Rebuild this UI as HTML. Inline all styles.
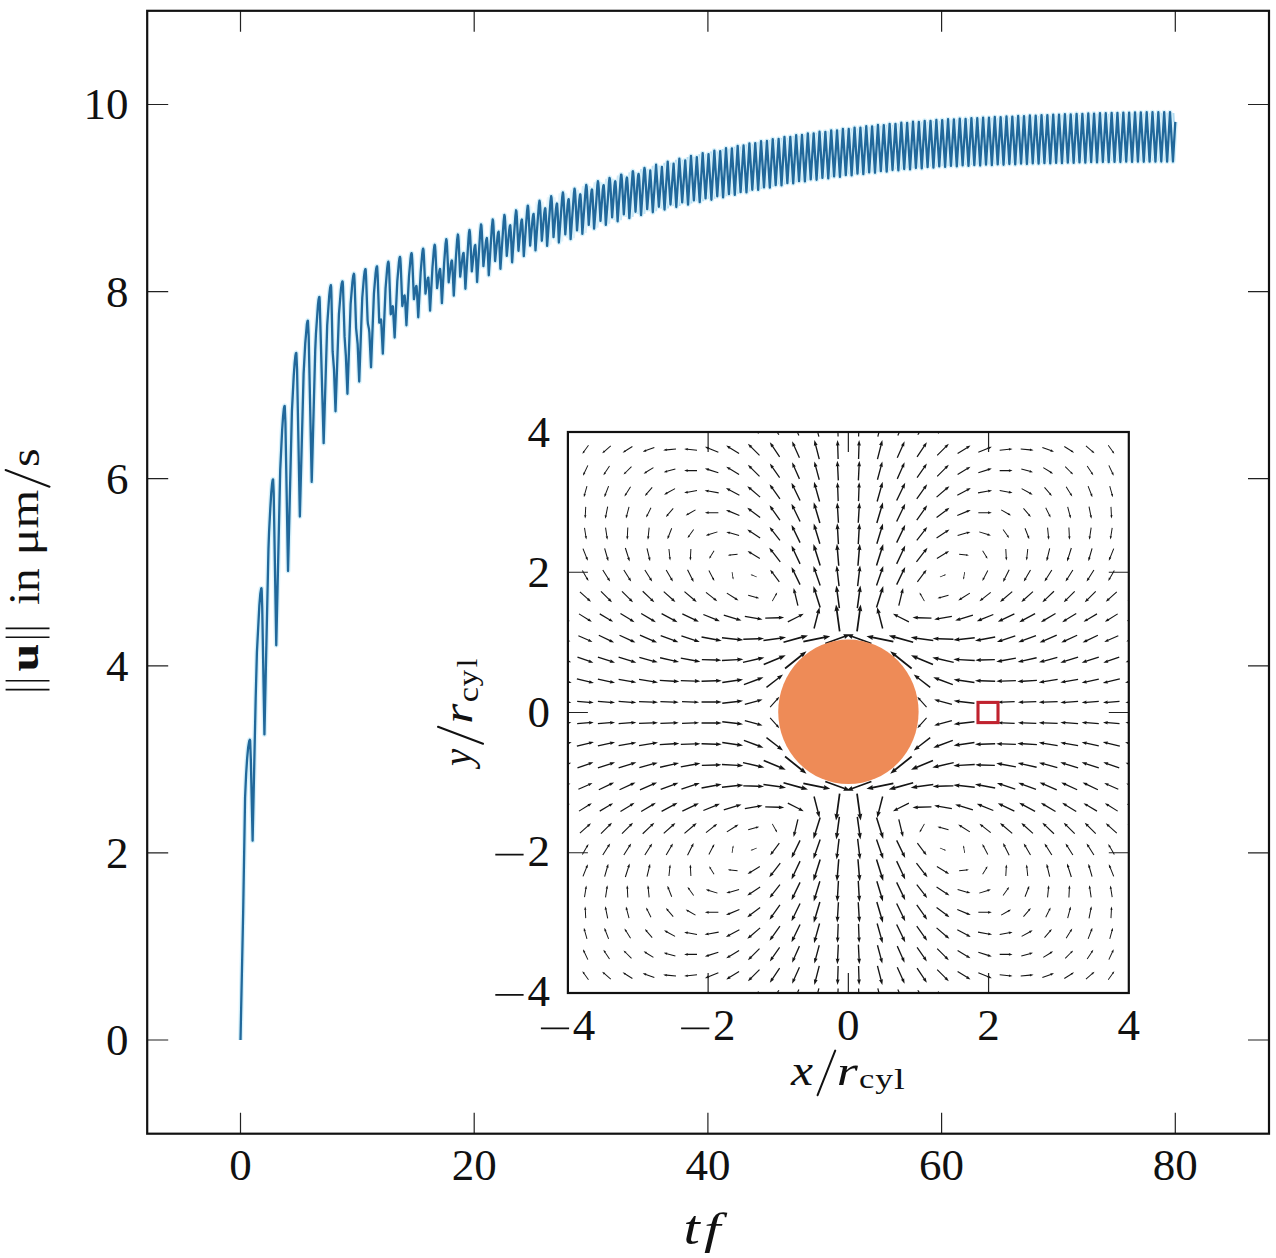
<!DOCTYPE html><html><head><meta charset="utf-8"><style>html,body{margin:0;padding:0;background:#fff;}svg{display:block;}text{font-family:"Liberation Serif",serif;fill:#111;}</style></head><body><svg width="1276" height="1258" viewBox="0 0 1276 1258"><rect width="1276" height="1258" fill="#fff"/><defs><clipPath id="cm"><rect x="147.2" y="10.8" width="1121.8" height="1122.9"/></clipPath><clipPath id="ci"><rect x="567.9" y="432.0" width="560.9" height="561.0"/></clipPath></defs><path d="M240.50,1133.70V1112.70M240.50,10.80V31.80M474.20,1133.70V1112.70M474.20,10.80V31.80M707.90,1133.70V1112.70M707.90,10.80V31.80M941.60,1133.70V1112.70M941.60,10.80V31.80M1175.30,1133.70V1112.70M1175.30,10.80V31.80M147.20,1040.00H168.20M1269.00,1040.00H1248.00M147.20,852.90H168.20M1269.00,852.90H1248.00M147.20,665.80H168.20M1269.00,665.80H1248.00M147.20,478.70H168.20M1269.00,478.70H1248.00M147.20,291.60H168.20M1269.00,291.60H1248.00M147.20,104.50H168.20M1269.00,104.50H1248.00" stroke="#222" stroke-width="1.2" fill="none"/><defs><linearGradient id="bg" x1="497.6" x2="684.5" y1="0" y2="0" gradientUnits="userSpaceOnUse"><stop offset="0" stop-color="#b3dcf2" stop-opacity="0"/><stop offset="1" stop-color="#b3dcf2" stop-opacity="1"/></linearGradient></defs><path d="M474.20,232.65 474.99,246.01 476.72,225.25 485.46,225.25 486.49,238.99 486.82,238.99 488.41,220.45 497.15,220.45 498.08,232.29 498.60,232.61 500.09,215.90 508.83,215.90 509.72,226.27 510.38,226.27 511.78,211.22 520.52,211.22 521.36,220.47 522.11,220.47 523.46,206.54 532.20,206.54 533.00,214.81 533.84,214.81 535.15,201.73 543.89,201.74 544.64,209.28 545.62,209.28 546.83,197.19 555.57,197.19 556.28,204.31 557.40,204.48 558.52,193.34 567.26,193.34 567.96,200.07 569.18,200.07 570.20,189.70 578.94,189.70 579.60,195.29 580.91,195.29 581.89,185.89 590.63,185.89 591.24,190.43 592.69,190.43 593.57,182.22 602.31,182.22 602.88,186.07 604.42,186.07 605.21,178.81 613.95,178.82 614.47,182.26 616.10,182.28 616.85,175.44 625.54,175.44 626.11,178.56 627.74,178.56 628.44,172.15 637.18,172.14 637.70,174.91 639.43,174.91 640.08,168.90 648.82,168.90 649.29,171.36 651.30,171.36 651.72,165.76 660.41,165.76 660.60,167.91 662.98,167.91 663.36,162.67 672.05,162.67 672.24,164.49 674.67,164.49 675.00,159.72 683.69,159.72 683.83,161.23 686.31,161.23 686.63,156.91 695.33,156.91 695.47,158.10 698.04,158.10 698.32,154.17 707.01,154.17 707.11,155.04 709.77,155.04 710.00,151.58 718.70,151.58 718.79,152.12 721.45,152.12 721.69,149.12 733.19,149.29 733.37,146.72 744.87,146.51 745.06,144.38 756.56,144.18 756.74,142.13 768.24,141.95 768.43,139.97 779.93,139.83 780.11,137.94 791.66,137.84 791.80,136.05 803.34,135.99 803.48,134.32 815.03,134.32 815.17,132.76 826.71,132.81 826.85,131.32 838.40,131.37 838.54,129.92 850.08,129.96 850.22,128.56 861.77,128.60 861.91,127.26 873.45,127.30 873.59,126.01 885.14,126.07 885.28,124.84 896.82,124.90 896.96,123.73 908.51,123.81 908.65,122.71 920.19,122.81 920.33,121.79 931.88,121.91 932.02,120.95 943.56,121.10 943.70,120.23 955.29,120.41 955.39,119.62 966.98,119.82 967.07,119.07 978.66,119.26 978.76,118.54 990.35,118.70 990.44,118.01 1002.03,118.16 1002.13,117.50 1013.72,117.63 1013.81,117.00 1025.40,117.12 1025.50,116.52 1037.09,116.62 1037.18,116.07 1048.77,116.15 1048.87,115.63 1060.46,115.70 1060.55,115.22 1072.14,115.28 1072.24,114.84 1083.83,114.89 1083.92,114.49 1095.51,114.53 1095.61,114.17 1118.98,113.63 1174.41,113.07 1174.97,122.91 1175.30,122.92 L1175.30,160.53 1101.40,160.99 1101.36,161.37 1089.72,161.16 1089.67,161.59 1078.08,161.36 1077.99,161.84 1066.40,161.59 1066.30,162.11 1054.71,161.83 1054.62,162.40 1043.03,162.09 1042.93,162.71 1031.34,162.38 1031.25,163.05 1019.66,162.68 1019.56,163.40 1007.97,163.01 1007.88,163.76 999.18,163.76 999.09,163.34 996.29,163.34 996.19,164.14 987.50,164.14 987.41,163.70 984.60,163.70 984.51,164.54 975.81,164.54 975.72,164.06 972.92,164.06 972.82,164.95 964.13,164.95 964.04,164.44 961.23,164.44 961.14,165.38 952.44,165.38 952.35,164.88 949.55,164.88 949.45,165.92 940.76,165.92 940.67,165.46 937.86,165.46 937.77,166.61 929.07,166.61 928.98,166.18 926.18,166.18 926.08,167.43 917.39,167.43 917.30,167.02 914.49,167.02 914.40,168.37 902.85,167.98 902.71,169.42 891.17,169.04 891.03,170.56 879.48,170.19 879.34,171.79 867.80,171.41 867.66,173.09 856.11,172.71 855.97,174.45 844.43,174.06 844.29,175.86 835.59,175.86 835.50,175.45 832.74,175.45 832.60,177.31 823.91,177.31 823.82,176.88 821.06,176.88 820.92,178.80 809.37,178.40 809.23,180.47 797.69,180.14 797.55,182.36 786.05,182.08 785.86,184.43 774.36,184.19 774.18,186.64 762.68,186.42 762.49,188.97 750.99,188.76 750.81,191.38 739.31,191.15 739.12,193.84 730.43,193.84 730.34,193.22 727.62,193.22 727.44,196.31 718.74,196.31 718.60,195.29 715.99,195.29 715.75,198.76 707.06,198.76 706.92,197.32 704.30,197.32 704.07,201.18 695.37,201.18 695.23,199.36 692.66,199.36 692.38,203.60 683.69,203.60 683.50,201.41 680.93,201.42 680.65,206.04 671.96,206.04 671.77,203.52 669.25,203.52 668.87,208.55 660.18,208.55 659.99,205.78 657.56,205.78 657.14,211.27 648.45,211.27 648.26,208.18 645.88,208.18 645.41,214.12 636.71,214.12 636.48,210.74 634.14,210.74 633.68,217.11 624.98,217.11 624.75,213.47 622.46,213.47 621.95,220.30 613.20,220.29 612.97,216.41 610.77,216.41 610.17,223.87 601.47,223.87 601.24,219.93 599.09,219.93 598.43,227.72 589.74,227.72 589.51,223.96 587.40,223.96 586.70,232.91 578.01,232.91 577.78,229.34 575.63,229.37 574.97,238.18 566.28,238.18 566.00,233.45 563.85,233.45 563.19,241.50 554.50,241.50 554.22,236.19 552.16,236.19 551.46,244.84 542.77,244.84 542.49,239.81 540.57,239.81 539.78,249.53 531.08,249.53 530.85,244.63 528.93,244.63 528.14,255.11 519.44,255.11 519.16,249.88 517.29,249.88 516.45,261.31 507.76,261.31 507.43,255.01 505.66,255.01 504.77,267.82 496.07,267.82 495.70,260.12 494.02,260.12 493.13,274.30 484.44,274.30 483.97,265.21 482.43,265.21 481.44,280.99 474.20,280.99Z" fill="url(#bg)" stroke="none"/><path d="M240.50,1040.00 243.16,912.29 245.08,797.52 246.11,774.28 247.14,758.43 248.17,747.34 249.24,740.95 249.85,739.74 250.13,740.53 250.83,759.22 252.61,840.71 255.69,697.75 256.91,652.24 259.34,605.56 260.32,593.65 261.21,588.49 261.49,588.32 261.72,590.93 262.23,607.68 264.43,734.41 268.45,549.15 269.06,532.33 270.27,508.73 271.25,492.84 272.10,483.38 272.66,480.01 272.94,479.38 273.12,479.64 273.69,492.79 276.26,645.24 280.23,469.38 282.15,430.00 283.08,416.25 283.87,408.58 284.39,406.25 284.62,405.98 284.76,406.57 285.42,422.90 288.03,571.05 291.91,411.37 293.74,375.83 294.62,363.28 295.42,355.70 295.93,353.26 296.21,352.89 296.35,353.41 297.06,369.46 299.86,516.54 303.60,373.86 305.23,343.70 306.87,324.33 307.48,321.17 307.81,320.70 307.95,321.13 308.69,336.30 311.73,481.88 315.24,349.88 315.94,333.98 317.99,304.60 318.60,299.46 319.16,297.09 319.40,296.91 319.49,297.42 319.72,301.33 323.65,443.19 327.20,325.05 329.26,295.30 330.10,287.87 330.85,285.09 331.13,286.82 331.41,294.98 332.62,351.42 333.98,369.05 335.52,411.32 338.93,314.17 340.90,289.72 341.69,283.65 342.39,281.31 342.67,281.95 343.00,286.94 344.59,336.91 345.85,355.57 347.44,393.76 350.62,304.19 352.44,281.80 353.19,276.07 353.89,273.73 354.22,275.03 354.59,282.03 356.09,328.10 357.63,343.79 359.22,381.54 362.26,297.74 363.99,276.75 364.69,271.41 365.34,269.13 365.53,269.15 365.67,270.04 366.04,276.31 367.59,320.07 367.91,323.74 368.94,328.65 369.36,332.43 371.04,367.28 373.94,293.37 375.63,273.19 376.28,268.26 376.84,266.37 377.03,266.44 377.21,267.77 377.64,275.15 379.27,322.71 380.72,319.62 381.00,319.54 381.19,320.57 382.82,353.64 385.58,288.12 387.22,268.11 387.82,263.41 388.34,261.66 388.71,263.16 389.13,270.25 390.72,313.87 390.82,314.24 392.31,307.02 392.69,306.27 392.92,306.74 394.65,337.49 397.31,281.03 398.90,262.50 399.46,258.33 399.93,256.81 400.30,258.31 400.72,265.08 402.31,306.08 404.00,296.73 404.42,295.49 404.60,295.44 404.70,295.75 405.21,301.84 406.43,325.28 409.00,276.23 410.54,258.53 411.05,254.66 411.52,253.10 411.90,254.59 412.27,260.09 413.91,299.22 415.73,287.74 416.20,286.10 416.38,285.93 416.52,286.27 417.04,292.58 418.25,317.26 420.73,271.55 422.23,253.68 422.69,250.03 423.11,248.58 423.49,250.12 423.86,255.57 425.50,293.67 427.46,279.93 427.93,277.96 428.16,277.59 428.30,277.71 428.82,283.61 430.08,310.59 432.46,267.65 433.86,249.94 434.33,246.05 434.70,244.74 435.08,246.30 435.45,251.61 437.09,288.11 439.19,271.93 439.71,269.49 439.94,269.02 440.13,269.08 440.69,276.00 441.90,303.14 444.15,262.92 445.55,243.98 446.30,239.15 446.67,240.80 447.04,246.14 448.68,282.29 450.92,264.03 451.48,261.15 451.76,260.53 451.95,260.57 452.47,266.67 453.77,295.60 455.88,257.98 457.19,239.34 457.89,234.52 458.26,236.22 458.64,241.54 460.22,276.58 462.61,256.48 463.12,253.67 463.59,252.88 464.15,259.47 465.41,288.78 468.50,238.73 469.01,232.38 469.48,229.88 469.85,231.65 470.23,236.95 471.82,271.35 474.25,249.08 474.81,245.82 475.28,245.07 475.84,252.12 477.10,281.99 480.23,231.56 481.02,224.30 481.40,225.68 481.77,230.71 483.41,266.14 485.84,242.75 486.40,239.14 486.91,238.00 487.47,244.52 488.78,275.30 491.91,226.65 492.71,219.50 493.08,220.86 493.46,225.86 495.09,261.06 497.52,236.49 498.08,232.75 498.60,231.63 499.16,238.41 500.42,268.82 503.65,221.32 504.39,214.95 504.77,216.29 505.14,221.23 506.78,255.95 509.21,230.27 509.77,226.41 510.05,225.46 510.28,225.33 510.84,232.33 512.11,262.31 515.38,215.91 516.08,210.27 516.45,211.60 516.83,216.48 518.46,250.82 520.89,224.48 521.45,220.56 521.92,219.47 522.48,225.81 523.79,256.11 527.06,211.16 527.72,205.69 527.90,205.61 528.09,206.53 528.51,211.71 530.15,245.57 532.58,218.79 533.14,214.86 533.61,213.83 534.17,220.46 535.48,250.45 538.79,205.77 539.50,200.73 539.87,202.53 540.24,207.70 541.83,240.76 544.31,212.86 544.92,208.90 545.20,208.29 545.39,208.72 545.90,216.38 547.11,245.84 550.48,201.29 551.18,196.19 551.55,198.02 551.93,203.31 553.52,237.13 555.99,208.62 556.60,204.34 556.93,203.50 557.12,203.87 557.63,211.64 558.85,242.50 562.21,197.14 562.87,192.34 563.24,194.15 563.61,199.39 565.30,234.45 567.68,204.39 568.29,199.88 568.61,199.07 568.80,199.61 569.32,207.44 570.62,239.18 573.94,193.17 574.55,188.70 574.92,190.43 575.30,195.42 577.03,230.34 579.37,199.65 579.97,195.03 580.25,194.31 580.44,194.68 581.00,202.54 582.36,233.91 585.63,189.43 586.24,184.89 586.61,186.48 586.98,191.12 588.76,224.96 591.05,194.63 591.66,190.06 591.94,189.43 592.13,189.95 592.69,197.58 594.09,228.72 596.28,201.62 597.36,185.24 597.92,181.22 598.29,182.74 598.72,187.90 600.49,220.93 602.73,190.24 603.30,185.82 603.58,185.08 603.76,185.46 604.37,193.32 605.82,224.87 607.97,197.92 609.00,181.88 609.51,177.85 609.89,179.01 610.35,184.43 612.13,217.40 614.42,186.23 614.98,181.91 615.26,181.28 615.45,181.79 616.06,189.57 617.60,221.30 620.64,178.58 621.10,174.58 621.29,174.55 621.48,175.37 621.95,180.40 623.81,214.47 626.06,182.87 626.62,178.29 626.90,177.56 627.09,177.95 627.74,185.93 629.33,218.11 632.70,171.40 632.88,171.17 633.12,172.12 633.58,177.14 635.50,211.74 637.65,180.18 638.16,175.30 638.58,173.91 638.96,175.83 639.33,180.80 641.06,215.12 643.96,171.59 644.47,167.90 644.85,169.65 645.32,175.37 647.18,209.18 650.27,170.49 652.79,212.27 656.07,164.76 658.87,206.78 661.91,166.91 664.53,209.55 667.70,161.67 670.51,204.52 673.59,163.72 676.30,207.04 679.34,158.72 682.19,202.41 685.23,160.29 688.04,204.60 690.98,155.91 693.88,200.36 696.82,157.10 699.72,202.18 702.67,153.17 705.56,198.32 708.51,154.04 711.41,199.76 714.35,150.58 717.25,196.29 720.19,151.12 723.09,197.31 725.99,148.19 728.93,194.22 731.88,148.29 734.78,194.84 737.67,145.79 740.62,192.15 743.56,145.51 746.46,192.38 749.41,143.38 752.30,189.76 755.25,143.18 758.15,189.97 761.04,141.20 763.99,187.42 766.93,140.95 769.83,187.64 772.73,139.04 775.67,185.19 778.62,138.83 781.52,185.43 784.46,136.94 787.36,183.08 790.30,136.84 793.20,183.36 796.15,135.05 799.04,181.14 801.99,134.99 804.89,181.47 807.83,133.32 810.73,179.40 813.67,133.32 816.57,179.80 819.52,131.76 822.41,177.88 825.36,131.81 828.26,178.31 831.20,130.32 834.10,176.45 837.04,130.37 839.94,176.86 842.89,128.92 845.78,175.06 848.73,128.96 851.63,175.45 854.57,127.56 857.47,173.71 860.41,127.60 863.31,174.09 866.26,126.26 869.15,172.41 872.10,126.30 875.00,172.79 877.94,125.01 880.84,171.19 883.78,125.07 886.68,171.56 889.63,123.84 892.52,170.04 895.47,123.90 898.37,170.42 901.31,122.73 904.21,168.98 907.15,122.81 910.05,169.37 913.00,121.71 915.89,168.02 918.84,121.81 921.74,168.43 924.68,120.79 927.58,167.18 930.52,120.91 933.42,167.61 936.37,119.95 939.26,166.46 942.21,120.10 945.11,166.92 948.05,119.23 950.95,165.88 953.89,119.41 956.79,166.38 959.74,118.62 962.63,165.44 965.58,118.82 968.48,165.95 971.42,118.07 974.32,165.06 977.26,118.26 980.16,165.54 983.11,117.54 986.00,164.70 988.95,117.70 991.85,165.14 994.79,117.01 997.69,164.34 1000.63,117.16 1003.53,164.76 1006.48,116.50 1009.37,164.01 1012.32,116.63 1015.22,164.40 1018.16,116.00 1021.06,163.68 1024.00,116.12 1026.90,164.05 1029.85,115.52 1032.74,163.38 1035.69,115.63 1038.59,163.71 1041.53,115.07 1044.43,163.09 1047.37,115.15 1050.27,163.40 1053.22,114.63 1056.11,162.83 1059.01,114.70 1061.96,163.11 1064.90,114.22 1067.80,162.59 1070.70,114.28 1073.64,162.84 1076.59,113.84 1079.48,162.36 1082.38,113.89 1085.33,162.59 1088.27,113.49 1091.17,162.16 1094.07,113.53 1097.01,162.37 1099.96,113.17 1102.85,161.99 1105.75,113.20 1108.70,162.17 1111.64,112.88 1114.54,161.84 1117.44,112.91 1120.38,161.99 1123.33,112.63 1126.22,161.72 1129.12,112.65 1132.07,161.85 1135.01,112.43 1137.91,161.63 1140.81,112.44 1143.75,161.73 1146.70,112.26 1149.59,161.57 1152.49,112.27 1155.44,161.65 1158.33,112.21 1161.28,161.54 1164.18,112.15 1167.12,161.59 1170.02,112.14 1172.96,161.53 1175.30,121.92" stroke="#d6f1fb" stroke-width="5" fill="none" stroke-linejoin="round" clip-path="url(#cm)"/><path d="M240.50,1040.00 243.16,912.29 245.08,797.52 246.11,774.28 247.14,758.43 248.17,747.34 249.24,740.95 249.85,739.74 250.13,740.53 250.83,759.22 252.61,840.71 255.69,697.75 256.91,652.24 259.34,605.56 260.32,593.65 261.21,588.49 261.49,588.32 261.72,590.93 262.23,607.68 264.43,734.41 268.45,549.15 269.06,532.33 270.27,508.73 271.25,492.84 272.10,483.38 272.66,480.01 272.94,479.38 273.12,479.64 273.69,492.79 276.26,645.24 280.23,469.38 282.15,430.00 283.08,416.25 283.87,408.58 284.39,406.25 284.62,405.98 284.76,406.57 285.42,422.90 288.03,571.05 291.91,411.37 293.74,375.83 294.62,363.28 295.42,355.70 295.93,353.26 296.21,352.89 296.35,353.41 297.06,369.46 299.86,516.54 303.60,373.86 305.23,343.70 306.87,324.33 307.48,321.17 307.81,320.70 307.95,321.13 308.69,336.30 311.73,481.88 315.24,349.88 315.94,333.98 317.99,304.60 318.60,299.46 319.16,297.09 319.40,296.91 319.49,297.42 319.72,301.33 323.65,443.19 327.20,325.05 329.26,295.30 330.10,287.87 330.85,285.09 331.13,286.82 331.41,294.98 332.62,351.42 333.98,369.05 335.52,411.32 338.93,314.17 340.90,289.72 341.69,283.65 342.39,281.31 342.67,281.95 343.00,286.94 344.59,336.91 345.85,355.57 347.44,393.76 350.62,304.19 352.44,281.80 353.19,276.07 353.89,273.73 354.22,275.03 354.59,282.03 356.09,328.10 357.63,343.79 359.22,381.54 362.26,297.74 363.99,276.75 364.69,271.41 365.34,269.13 365.53,269.15 365.67,270.04 366.04,276.31 367.59,320.07 367.91,323.74 368.94,328.65 369.36,332.43 371.04,367.28 373.94,293.37 375.63,273.19 376.28,268.26 376.84,266.37 377.03,266.44 377.21,267.77 377.64,275.15 379.27,322.71 380.72,319.62 381.00,319.54 381.19,320.57 382.82,353.64 385.58,288.12 387.22,268.11 387.82,263.41 388.34,261.66 388.71,263.16 389.13,270.25 390.72,313.87 390.82,314.24 392.31,307.02 392.69,306.27 392.92,306.74 394.65,337.49 397.31,281.03 398.90,262.50 399.46,258.33 399.93,256.81 400.30,258.31 400.72,265.08 402.31,306.08 404.00,296.73 404.42,295.49 404.60,295.44 404.70,295.75 405.21,301.84 406.43,325.28 409.00,276.23 410.54,258.53 411.05,254.66 411.52,253.10 411.90,254.59 412.27,260.09 413.91,299.22 415.73,287.74 416.20,286.10 416.38,285.93 416.52,286.27 417.04,292.58 418.25,317.26 420.73,271.55 422.23,253.68 422.69,250.03 423.11,248.58 423.49,250.12 423.86,255.57 425.50,293.67 427.46,279.93 427.93,277.96 428.16,277.59 428.30,277.71 428.82,283.61 430.08,310.59 432.46,267.65 433.86,249.94 434.33,246.05 434.70,244.74 435.08,246.30 435.45,251.61 437.09,288.11 439.19,271.93 439.71,269.49 439.94,269.02 440.13,269.08 440.69,276.00 441.90,303.14 444.15,262.92 445.55,243.98 446.30,239.15 446.67,240.80 447.04,246.14 448.68,282.29 450.92,264.03 451.48,261.15 451.76,260.53 451.95,260.57 452.47,266.67 453.77,295.60 455.88,257.98 457.19,239.34 457.89,234.52 458.26,236.22 458.64,241.54 460.22,276.58 462.61,256.48 463.12,253.67 463.59,252.88 464.15,259.47 465.41,288.78 468.50,238.73 469.01,232.38 469.48,229.88 469.85,231.65 470.23,236.95 471.82,271.35 474.25,249.08 474.81,245.82 475.28,245.07 475.84,252.12 477.10,281.99 480.23,231.56 481.02,224.30 481.40,225.68 481.77,230.71 483.41,266.14 485.84,242.75 486.40,239.14 486.91,238.00 487.47,244.52 488.78,275.30 491.91,226.65 492.71,219.50 493.08,220.86 493.46,225.86 495.09,261.06 497.52,236.49 498.08,232.75 498.60,231.63 499.16,238.41 500.42,268.82 503.65,221.32 504.39,214.95 504.77,216.29 505.14,221.23 506.78,255.95 509.21,230.27 509.77,226.41 510.05,225.46 510.28,225.33 510.84,232.33 512.11,262.31 515.38,215.91 516.08,210.27 516.45,211.60 516.83,216.48 518.46,250.82 520.89,224.48 521.45,220.56 521.92,219.47 522.48,225.81 523.79,256.11 527.06,211.16 527.72,205.69 527.90,205.61 528.09,206.53 528.51,211.71 530.15,245.57 532.58,218.79 533.14,214.86 533.61,213.83 534.17,220.46 535.48,250.45 538.79,205.77 539.50,200.73 539.87,202.53 540.24,207.70 541.83,240.76 544.31,212.86 544.92,208.90 545.20,208.29 545.39,208.72 545.90,216.38 547.11,245.84 550.48,201.29 551.18,196.19 551.55,198.02 551.93,203.31 553.52,237.13 555.99,208.62 556.60,204.34 556.93,203.50 557.12,203.87 557.63,211.64 558.85,242.50 562.21,197.14 562.87,192.34 563.24,194.15 563.61,199.39 565.30,234.45 567.68,204.39 568.29,199.88 568.61,199.07 568.80,199.61 569.32,207.44 570.62,239.18 573.94,193.17 574.55,188.70 574.92,190.43 575.30,195.42 577.03,230.34 579.37,199.65 579.97,195.03 580.25,194.31 580.44,194.68 581.00,202.54 582.36,233.91 585.63,189.43 586.24,184.89 586.61,186.48 586.98,191.12 588.76,224.96 591.05,194.63 591.66,190.06 591.94,189.43 592.13,189.95 592.69,197.58 594.09,228.72 596.28,201.62 597.36,185.24 597.92,181.22 598.29,182.74 598.72,187.90 600.49,220.93 602.73,190.24 603.30,185.82 603.58,185.08 603.76,185.46 604.37,193.32 605.82,224.87 607.97,197.92 609.00,181.88 609.51,177.85 609.89,179.01 610.35,184.43 612.13,217.40 614.42,186.23 614.98,181.91 615.26,181.28 615.45,181.79 616.06,189.57 617.60,221.30 620.64,178.58 621.10,174.58 621.29,174.55 621.48,175.37 621.95,180.40 623.81,214.47 626.06,182.87 626.62,178.29 626.90,177.56 627.09,177.95 627.74,185.93 629.33,218.11 632.70,171.40 632.88,171.17 633.12,172.12 633.58,177.14 635.50,211.74 637.65,180.18 638.16,175.30 638.58,173.91 638.96,175.83 639.33,180.80 641.06,215.12 643.96,171.59 644.47,167.90 644.85,169.65 645.32,175.37 647.18,209.18 650.27,170.49 652.79,212.27 656.07,164.76 658.87,206.78 661.91,166.91 664.53,209.55 667.70,161.67 670.51,204.52 673.59,163.72 676.30,207.04 679.34,158.72 682.19,202.41 685.23,160.29 688.04,204.60 690.98,155.91 693.88,200.36 696.82,157.10 699.72,202.18 702.67,153.17 705.56,198.32 708.51,154.04 711.41,199.76 714.35,150.58 717.25,196.29 720.19,151.12 723.09,197.31 725.99,148.19 728.93,194.22 731.88,148.29 734.78,194.84 737.67,145.79 740.62,192.15 743.56,145.51 746.46,192.38 749.41,143.38 752.30,189.76 755.25,143.18 758.15,189.97 761.04,141.20 763.99,187.42 766.93,140.95 769.83,187.64 772.73,139.04 775.67,185.19 778.62,138.83 781.52,185.43 784.46,136.94 787.36,183.08 790.30,136.84 793.20,183.36 796.15,135.05 799.04,181.14 801.99,134.99 804.89,181.47 807.83,133.32 810.73,179.40 813.67,133.32 816.57,179.80 819.52,131.76 822.41,177.88 825.36,131.81 828.26,178.31 831.20,130.32 834.10,176.45 837.04,130.37 839.94,176.86 842.89,128.92 845.78,175.06 848.73,128.96 851.63,175.45 854.57,127.56 857.47,173.71 860.41,127.60 863.31,174.09 866.26,126.26 869.15,172.41 872.10,126.30 875.00,172.79 877.94,125.01 880.84,171.19 883.78,125.07 886.68,171.56 889.63,123.84 892.52,170.04 895.47,123.90 898.37,170.42 901.31,122.73 904.21,168.98 907.15,122.81 910.05,169.37 913.00,121.71 915.89,168.02 918.84,121.81 921.74,168.43 924.68,120.79 927.58,167.18 930.52,120.91 933.42,167.61 936.37,119.95 939.26,166.46 942.21,120.10 945.11,166.92 948.05,119.23 950.95,165.88 953.89,119.41 956.79,166.38 959.74,118.62 962.63,165.44 965.58,118.82 968.48,165.95 971.42,118.07 974.32,165.06 977.26,118.26 980.16,165.54 983.11,117.54 986.00,164.70 988.95,117.70 991.85,165.14 994.79,117.01 997.69,164.34 1000.63,117.16 1003.53,164.76 1006.48,116.50 1009.37,164.01 1012.32,116.63 1015.22,164.40 1018.16,116.00 1021.06,163.68 1024.00,116.12 1026.90,164.05 1029.85,115.52 1032.74,163.38 1035.69,115.63 1038.59,163.71 1041.53,115.07 1044.43,163.09 1047.37,115.15 1050.27,163.40 1053.22,114.63 1056.11,162.83 1059.01,114.70 1061.96,163.11 1064.90,114.22 1067.80,162.59 1070.70,114.28 1073.64,162.84 1076.59,113.84 1079.48,162.36 1082.38,113.89 1085.33,162.59 1088.27,113.49 1091.17,162.16 1094.07,113.53 1097.01,162.37 1099.96,113.17 1102.85,161.99 1105.75,113.20 1108.70,162.17 1111.64,112.88 1114.54,161.84 1117.44,112.91 1120.38,161.99 1123.33,112.63 1126.22,161.72 1129.12,112.65 1132.07,161.85 1135.01,112.43 1137.91,161.63 1140.81,112.44 1143.75,161.73 1146.70,112.26 1149.59,161.57 1152.49,112.27 1155.44,161.65 1158.33,112.21 1161.28,161.54 1164.18,112.15 1167.12,161.59 1170.02,112.14 1172.96,161.53 1175.30,121.92" stroke="#21689b" stroke-width="2.3" fill="none" stroke-linejoin="round" clip-path="url(#cm)"/><rect x="147.2" y="10.8" width="1121.8" height="1122.9" fill="none" stroke="#111" stroke-width="2.2"/><text x="240.50" y="1180" font-size="45" text-anchor="middle">0</text><text x="474.20" y="1180" font-size="45" text-anchor="middle">20</text><text x="707.90" y="1180" font-size="45" text-anchor="middle">40</text><text x="941.60" y="1180" font-size="45" text-anchor="middle">60</text><text x="1175.30" y="1180" font-size="45" text-anchor="middle">80</text><text x="128.5" y="1054.90" font-size="45" text-anchor="end">0</text><text x="128.5" y="867.80" font-size="45" text-anchor="end">2</text><text x="128.5" y="680.70" font-size="45" text-anchor="end">4</text><text x="128.5" y="493.60" font-size="45" text-anchor="end">6</text><text x="128.5" y="306.50" font-size="45" text-anchor="end">8</text><text x="128.5" y="119.40" font-size="45" text-anchor="end">10</text><rect x="567.9" y="432.0" width="560.9" height="561.0" fill="#fff"/><g clip-path="url(#ci)"><path d="M926.97,706.82 920.24,699.20 921.08,698.88 917.38,696.78 919.00,700.72 919.42,699.92 926.15,707.54ZM926.15,717.46 919.42,725.08 919.00,724.28 917.38,728.22 921.08,726.12 920.24,725.80 926.97,718.18ZM770.55,707.54 777.28,699.92 777.70,700.72 779.32,696.78 775.62,698.88 776.46,699.20 769.73,706.82ZM769.73,718.18 776.46,725.80 775.62,726.12 779.32,728.22 777.70,724.28 777.28,725.08 770.55,717.46ZM952.05,703.79 939.04,700.21 939.77,699.18 934.13,699.54 938.79,702.73 938.69,701.48 951.70,705.07ZM951.70,719.93 938.69,723.52 938.79,722.27 934.13,725.46 939.77,725.82 939.04,724.79 952.05,721.21ZM745.00,705.07 758.01,701.48 757.91,702.73 762.57,699.54 756.93,699.18 757.66,700.21 744.65,703.79ZM744.65,721.21 757.66,724.79 756.93,725.82 762.57,725.46 757.91,722.27 758.01,723.52 745.00,719.93ZM974.52,702.49 959.27,700.69 959.91,699.39 953.64,700.76 959.42,703.55 959.10,702.13 974.35,703.93ZM974.35,721.07 959.10,722.87 959.42,721.45 953.64,724.24 959.91,725.61 959.27,724.31 974.52,722.51ZM722.35,703.93 737.60,702.13 737.28,703.55 743.06,700.76 736.79,699.39 737.43,700.69 722.18,702.49ZM722.18,722.51 737.43,724.31 736.79,725.61 743.06,724.24 737.28,721.45 737.60,722.87 722.35,721.07ZM701.54,702.69 716.34,702.69 715.87,704.00 721.72,701.98 715.87,699.96 716.34,701.28 701.54,701.28ZM701.54,723.72 716.34,723.72 715.87,725.04 721.72,723.02 715.87,721.00 716.34,722.31 701.54,722.31ZM1014.65,701.05 1002.09,701.50 1002.44,700.40 997.54,702.29 1002.57,703.82 1002.13,702.75 1014.69,702.31ZM1014.69,722.69 1002.13,722.25 1002.57,721.18 997.54,722.71 1002.44,724.60 1002.09,723.50 1014.65,723.95ZM682.01,702.31 694.57,702.75 694.13,703.82 699.16,702.29 694.26,700.40 694.61,701.50 682.05,701.05ZM682.05,723.95 694.61,723.50 694.26,724.60 699.16,722.71 694.13,721.18 694.57,722.25 682.01,722.69ZM1036.29,701.02 1022.84,701.47 1023.22,700.28 1017.96,702.29 1023.34,703.95 1022.88,702.78 1036.34,702.34ZM1036.34,722.66 1022.88,722.22 1023.34,721.05 1017.96,722.71 1023.22,724.72 1022.84,723.53 1036.29,723.98ZM660.36,702.34 673.82,702.78 673.36,703.95 678.74,702.29 673.48,700.28 673.86,701.47 660.41,701.02ZM660.41,723.98 673.86,723.53 673.48,724.72 678.74,722.71 673.36,721.05 673.82,722.22 660.36,722.66ZM1057.63,701.00 1043.73,701.45 1044.13,700.22 1038.69,702.29 1044.25,704.01 1043.77,702.80 1057.67,702.35ZM1057.67,722.65 1043.77,722.20 1044.25,720.99 1038.69,722.71 1044.13,724.78 1043.73,723.55 1057.63,724.00ZM639.03,702.35 652.93,702.80 652.45,704.01 658.01,702.29 652.57,700.22 652.97,701.45 639.07,701.00ZM639.07,724.00 652.97,723.55 652.57,724.78 658.01,722.71 652.45,720.99 652.93,722.20 639.03,722.65ZM1078.03,700.73 1065.02,701.63 1065.36,700.47 1060.33,702.59 1065.60,704.01 1065.11,702.91 1078.12,702.01ZM1078.12,722.99 1065.11,722.09 1065.60,720.99 1060.33,722.41 1065.36,724.53 1065.02,723.37 1078.03,724.27ZM618.58,702.01 631.59,702.91 631.10,704.01 636.37,702.59 631.34,700.47 631.68,701.63 618.67,700.73ZM618.67,724.27 631.68,723.37 631.34,724.53 636.37,722.41 631.10,720.99 631.59,722.09 618.58,722.99ZM1098.76,700.74 1086.20,701.64 1086.52,700.53 1081.67,702.59 1086.76,703.95 1086.29,702.90 1098.85,702.00ZM1098.85,723.00 1086.29,722.10 1086.76,721.05 1081.67,722.41 1086.52,724.47 1086.20,723.36 1098.76,724.26ZM597.85,702.00 610.41,702.90 609.94,703.95 615.03,702.59 610.18,700.53 610.50,701.64 597.94,700.74ZM597.94,724.26 610.50,723.36 610.18,724.47 615.03,722.41 609.94,721.05 610.41,722.10 597.85,723.00ZM1119.49,700.76 1107.37,701.66 1107.68,700.59 1103.01,702.59 1107.93,703.89 1107.47,702.88 1119.58,701.98ZM1119.58,723.02 1107.47,722.12 1107.93,721.11 1103.01,722.41 1107.68,724.41 1107.37,723.34 1119.49,724.24ZM577.12,701.98 589.23,702.88 588.77,703.89 593.69,702.59 589.02,700.59 589.33,701.66 577.21,700.76ZM577.21,724.24 589.33,723.34 589.02,724.41 593.69,722.41 588.77,721.11 589.23,722.12 577.12,723.02ZM1139.28,700.91 1128.99,701.68 1129.25,700.80 1125.29,702.50 1129.46,703.61 1129.07,702.78 1139.37,702.01ZM1139.37,722.99 1129.07,722.22 1129.46,721.39 1125.29,722.50 1129.25,724.20 1128.99,723.32 1139.28,724.09ZM557.33,702.01 567.63,702.78 567.24,703.61 571.41,702.50 567.45,700.80 567.71,701.68 557.42,700.91ZM557.42,724.09 567.71,723.32 567.45,724.20 571.41,722.50 567.24,721.39 567.63,722.22 557.33,722.99ZM930.67,686.80 918.56,677.38 919.78,676.60 913.71,674.53 917.21,679.90 917.67,678.52 929.78,687.94ZM929.78,737.06 917.67,746.48 917.21,745.10 913.71,750.47 919.78,748.40 918.56,747.62 930.67,738.20ZM766.92,687.94 779.03,678.52 779.49,679.90 782.99,674.53 776.92,676.60 778.14,677.38 766.03,686.80ZM766.03,738.20 778.14,747.62 776.92,748.40 782.99,750.47 779.49,745.10 779.03,746.48 766.92,737.06ZM953.04,683.94 938.69,678.56 939.62,677.45 933.21,677.28 938.16,681.37 938.18,679.91 952.54,685.30ZM952.54,739.70 938.18,745.09 938.16,743.63 933.21,747.72 939.62,747.55 938.69,746.44 953.04,741.06ZM744.16,685.30 758.52,679.91 758.54,681.37 763.49,677.28 757.08,677.45 758.01,678.56 743.66,683.94ZM743.66,741.06 758.01,746.44 757.08,747.55 763.49,747.72 758.54,743.63 758.52,745.09 744.16,739.70ZM974.54,681.76 959.29,679.52 959.97,678.23 953.64,679.42 959.36,682.39 959.08,680.95 974.33,683.20ZM974.33,741.80 959.08,744.05 959.36,742.61 953.64,745.58 959.97,746.77 959.29,745.48 974.54,743.24ZM722.37,683.20 737.62,680.95 737.34,682.39 743.06,679.42 736.73,678.23 737.41,679.52 722.16,681.76ZM722.16,743.24 737.41,745.48 736.73,746.77 743.06,745.58 737.34,742.61 737.62,744.05 722.37,741.80ZM995.18,680.55 980.38,680.10 980.89,678.80 974.98,680.64 980.77,682.84 980.34,681.51 995.14,681.96ZM995.14,743.04 980.34,743.49 980.77,742.16 974.98,744.36 980.89,746.20 980.38,744.90 995.18,744.45ZM701.56,681.96 716.36,681.51 715.93,682.84 721.72,680.64 715.81,678.80 716.32,680.10 701.52,680.55ZM701.52,744.45 716.32,744.90 715.81,746.20 721.72,744.36 715.93,742.16 716.36,743.49 701.56,743.04ZM1015.87,679.95 1001.52,680.40 1001.93,679.12 996.31,681.26 1002.05,683.04 1001.56,681.78 1015.91,681.33ZM1015.91,743.67 1001.56,743.22 1002.05,741.96 996.31,743.74 1001.93,745.88 1001.52,744.60 1015.87,745.05ZM680.79,681.33 695.14,681.78 694.65,683.04 700.39,681.26 694.77,679.12 695.18,680.40 680.83,679.95ZM680.83,745.05 695.18,744.60 694.77,745.88 700.39,743.74 694.65,741.96 695.14,743.22 680.79,743.67ZM1036.88,679.65 1022.53,680.55 1022.90,679.25 1017.35,681.56 1023.15,683.16 1022.61,681.92 1036.97,681.03ZM1036.97,743.97 1022.61,743.08 1023.15,741.84 1017.35,743.44 1022.90,745.75 1022.53,744.45 1036.88,745.35ZM659.73,681.03 674.09,681.92 673.55,683.16 679.35,681.56 673.80,679.25 674.17,680.55 659.82,679.65ZM659.82,745.35 674.17,744.45 673.80,745.75 679.35,743.44 673.55,741.84 674.09,743.08 659.73,743.97ZM1057.54,678.75 1043.64,680.99 1043.88,679.70 1038.69,682.48 1044.49,683.49 1043.86,682.33 1057.76,680.09ZM1057.76,744.91 1043.86,742.67 1044.49,741.51 1038.69,742.52 1043.88,745.30 1043.64,744.01 1057.54,746.25ZM638.94,680.09 652.84,682.33 652.21,683.49 658.01,682.48 652.82,679.70 653.06,680.99 639.16,678.75ZM639.16,746.25 653.06,744.01 652.82,745.30 658.01,742.52 652.21,741.51 652.84,742.67 638.94,744.91ZM1077.96,678.78 1064.96,681.02 1065.17,679.82 1060.33,682.48 1065.78,683.37 1065.18,682.30 1078.19,680.06ZM1078.19,744.94 1065.18,742.70 1065.78,741.63 1060.33,742.52 1065.17,745.18 1064.96,743.98 1077.96,746.22ZM618.51,680.06 631.52,682.30 630.92,683.37 636.37,682.48 631.53,679.82 631.74,681.02 618.74,678.78ZM618.74,746.22 631.74,743.98 631.53,745.18 636.37,742.52 630.92,741.63 631.52,742.70 618.51,744.94ZM1098.67,678.49 1086.11,681.18 1086.27,680.01 1081.67,682.78 1087.01,683.43 1086.38,682.43 1098.94,679.74ZM1098.94,745.26 1086.38,742.57 1087.01,741.57 1081.67,742.22 1086.27,744.99 1086.11,743.82 1098.67,746.51ZM597.76,679.74 610.32,682.43 609.69,683.43 615.03,682.78 610.43,680.01 610.59,681.18 598.03,678.49ZM598.03,746.51 610.59,743.82 610.43,744.99 615.03,742.22 609.69,741.57 610.32,742.57 597.76,745.26ZM1119.68,678.19 1107.12,681.33 1107.25,680.14 1102.71,683.09 1108.10,683.56 1107.43,682.57 1119.99,679.43ZM1119.99,745.57 1107.43,742.43 1108.10,741.44 1102.71,741.91 1107.25,744.86 1107.12,743.67 1119.68,746.81ZM576.71,679.43 589.27,682.57 588.60,683.56 593.99,683.09 589.45,680.14 589.58,681.33 577.02,678.19ZM577.02,746.81 589.58,743.67 589.45,744.86 593.99,741.91 588.60,741.44 589.27,742.43 576.71,745.57ZM1139.45,678.57 1128.77,681.24 1128.88,680.26 1125.03,682.77 1129.61,683.17 1129.05,682.36 1139.73,679.69ZM1139.73,745.31 1129.05,742.64 1129.61,741.83 1125.03,742.23 1128.88,744.74 1128.77,743.76 1139.45,746.43ZM556.97,679.69 567.65,682.36 567.09,683.17 571.67,682.77 567.82,680.26 567.93,681.24 557.25,678.57ZM557.25,746.43 567.93,743.76 567.82,744.74 571.67,742.23 567.09,741.83 567.65,742.64 556.97,745.31ZM912.19,667.79 895.67,654.57 897.10,653.65 890.23,651.35 893.98,657.55 894.56,655.95 911.09,669.17ZM911.09,755.83 894.56,769.05 893.98,767.45 890.23,773.65 897.10,771.35 895.67,770.43 912.19,757.21ZM785.61,669.17 802.14,655.95 802.72,657.55 806.47,651.35 799.60,653.65 801.03,654.57 784.51,667.79ZM784.51,757.21 801.03,770.43 799.60,771.35 806.47,773.65 802.72,767.45 802.14,769.05 785.61,755.83ZM933.29,663.77 917.04,657.00 918.15,655.74 910.96,655.33 916.32,660.15 916.42,658.47 932.67,665.24ZM932.67,759.76 916.42,766.53 916.32,764.85 910.96,769.67 918.15,769.26 917.04,768.00 933.29,761.23ZM764.03,665.24 780.28,658.47 780.38,660.15 785.74,655.33 778.55,655.74 779.66,657.00 763.41,663.77ZM763.41,761.23 779.66,768.00 778.55,769.26 785.74,769.67 780.38,764.85 780.28,766.53 764.03,759.76ZM953.87,661.63 938.18,658.04 938.99,656.75 932.30,657.47 938.02,661.03 937.84,659.50 953.54,663.09ZM953.54,761.91 937.84,765.50 938.02,763.97 932.30,767.53 938.99,768.25 938.18,766.96 953.87,763.37ZM743.16,663.09 758.86,659.50 758.68,661.03 764.40,657.47 757.71,656.75 758.52,658.04 742.83,661.63ZM742.83,763.37 758.52,766.96 757.71,768.25 764.40,767.53 758.68,763.97 758.86,765.50 743.16,761.91ZM974.78,659.79 959.08,658.90 959.66,657.52 953.33,659.30 959.42,661.80 959.00,660.37 974.70,661.26ZM974.70,763.74 959.00,764.63 959.42,763.20 953.33,765.70 959.66,767.48 959.08,766.10 974.78,765.21ZM722.00,661.26 737.70,660.37 737.28,661.80 743.37,659.30 737.04,657.52 737.62,658.90 721.92,659.79ZM721.92,765.21 737.62,766.10 737.04,767.48 743.37,765.70 737.28,763.20 737.70,764.63 722.00,763.74ZM994.84,658.92 980.48,659.37 980.90,658.09 975.28,660.22 981.02,662.00 980.53,660.75 994.88,660.30ZM994.88,764.70 980.53,764.25 981.02,763.00 975.28,764.78 980.90,766.91 980.48,765.63 994.84,766.08ZM701.82,660.30 716.17,660.75 715.68,662.00 721.42,660.22 715.80,658.09 716.22,659.37 701.86,658.92ZM701.86,766.08 716.22,765.63 715.80,766.91 721.42,764.78 715.68,763.00 716.17,764.25 701.82,764.70ZM1015.76,657.39 1001.41,660.09 1001.63,658.73 996.31,661.75 1002.36,662.64 1001.67,661.46 1016.02,658.77ZM1016.02,766.23 1001.67,763.54 1002.36,762.36 996.31,763.25 1001.63,766.27 1001.41,764.91 1015.76,767.61ZM680.68,658.77 695.03,661.46 694.34,662.64 700.39,661.75 695.07,658.73 695.29,660.09 680.94,657.39ZM680.94,767.61 695.29,764.91 695.07,766.27 700.39,763.25 694.34,762.36 695.03,763.54 680.68,766.23ZM1036.47,657.11 1022.56,660.25 1022.73,658.92 1017.65,662.06 1023.58,662.71 1022.87,661.58 1036.77,658.44ZM1036.77,766.56 1022.87,763.42 1023.58,762.29 1017.65,762.94 1022.73,766.08 1022.56,764.75 1036.47,767.89ZM659.93,658.44 673.83,661.58 673.12,662.71 679.05,662.06 673.97,658.92 674.14,660.25 660.23,657.11ZM660.23,767.89 674.14,764.75 673.97,766.08 679.05,762.94 673.12,762.29 673.83,763.42 659.93,766.56ZM1057.17,656.82 1043.72,660.40 1043.83,659.11 1038.99,662.36 1044.81,662.78 1044.06,661.71 1057.52,658.12ZM1057.52,766.88 1044.06,763.29 1044.81,762.22 1038.99,762.64 1043.83,765.89 1043.72,764.60 1057.17,768.18ZM639.18,658.12 652.64,661.71 651.89,662.78 657.71,662.36 652.87,659.11 652.98,660.40 639.53,656.82ZM639.53,768.18 652.98,764.60 652.87,765.89 657.71,762.64 651.89,762.22 652.64,763.29 639.18,766.88ZM1077.88,656.53 1064.87,660.57 1064.93,659.30 1060.33,662.67 1066.03,662.85 1065.26,661.83 1078.27,657.80ZM1078.27,767.20 1065.26,763.17 1066.03,762.15 1060.33,762.33 1064.93,765.70 1064.87,764.43 1077.88,768.47ZM618.43,657.80 631.44,661.83 630.67,662.85 636.37,662.67 631.77,659.30 631.83,660.57 618.82,656.53ZM618.82,768.47 631.83,764.43 631.77,765.70 636.37,762.33 630.67,762.15 631.44,763.17 618.43,767.20ZM1098.60,656.54 1086.04,660.58 1086.09,659.36 1081.67,662.67 1087.19,662.78 1086.44,661.82 1099.00,657.78ZM1099.00,767.22 1086.44,763.18 1087.19,762.22 1081.67,762.33 1086.09,765.64 1086.04,764.42 1098.60,768.46ZM597.70,657.78 610.26,661.82 609.51,662.78 615.03,662.67 610.61,659.36 610.66,660.58 598.10,656.54ZM598.10,768.46 610.66,764.42 610.61,765.64 615.03,762.33 609.51,762.22 610.26,763.18 597.70,767.22ZM1119.02,656.58 1107.36,660.61 1107.38,659.48 1103.32,662.67 1108.48,662.66 1107.77,661.79 1119.43,657.75ZM1119.43,767.25 1107.77,763.21 1108.48,762.34 1103.32,762.33 1107.38,765.52 1107.36,764.39 1119.02,768.42ZM577.27,657.75 588.93,661.79 588.22,662.66 593.38,662.67 589.32,659.48 589.34,660.61 577.68,656.58ZM577.68,768.42 589.34,764.39 589.32,765.52 593.38,762.33 588.22,762.34 588.93,763.21 577.27,767.25ZM1138.88,657.05 1128.97,660.48 1129.00,659.55 1125.55,662.26 1129.93,662.25 1129.34,661.53 1139.25,658.10ZM1139.25,766.90 1129.34,763.47 1129.93,762.75 1125.55,762.74 1129.00,765.45 1128.97,764.52 1138.88,767.95ZM557.45,658.10 567.36,661.53 566.77,662.25 571.15,662.26 567.70,659.55 567.73,660.48 557.82,657.05ZM557.82,767.95 567.73,764.52 567.70,765.45 571.15,762.74 566.77,762.75 567.36,763.47 557.45,766.90ZM871.71,642.66 852.50,635.63 853.57,634.28 846.33,634.29 851.85,638.98 851.90,637.26 871.11,644.28ZM871.11,780.72 851.90,787.74 851.85,786.02 846.33,790.71 853.57,790.72 852.50,789.37 871.71,782.34ZM825.59,644.28 844.80,637.26 844.85,638.98 850.37,634.29 843.13,634.28 844.20,635.63 824.99,642.66ZM824.99,782.34 844.20,789.37 843.13,790.72 850.37,790.71 844.85,786.02 844.80,787.74 825.59,780.72ZM893.54,640.77 872.75,636.51 873.60,635.04 866.44,636.13 872.60,639.94 872.39,638.25 893.18,642.50ZM893.18,782.50 872.39,786.75 872.60,785.06 866.44,788.87 873.60,789.96 872.75,788.49 893.54,784.23ZM803.52,642.50 824.31,638.25 824.10,639.94 830.26,636.13 823.10,635.04 823.95,636.51 803.16,640.77ZM803.16,784.23 823.95,788.49 823.10,789.96 830.26,788.87 824.10,785.06 824.31,786.75 803.52,782.50ZM913.39,641.44 894.95,636.37 895.92,634.91 888.70,635.52 894.59,639.73 894.51,637.98 912.95,643.05ZM912.95,781.95 894.51,787.02 894.59,785.27 888.70,789.48 895.92,790.09 894.95,788.63 913.39,783.56ZM783.75,643.05 802.19,637.98 802.11,639.73 808.00,635.52 800.78,634.91 801.75,636.37 783.31,641.44ZM783.31,783.56 801.75,788.63 800.78,790.09 808.00,789.48 802.11,785.27 802.19,787.02 783.75,781.95ZM933.39,639.65 916.79,637.40 917.52,635.98 910.65,637.35 916.91,640.50 916.59,638.93 933.18,641.18ZM933.18,783.82 916.59,786.07 916.91,784.50 910.65,787.65 917.52,789.02 916.79,787.60 933.39,785.35ZM763.52,641.18 780.11,638.93 779.79,640.50 786.05,637.35 779.18,635.98 779.91,637.40 763.31,639.65ZM763.31,785.35 779.91,787.60 779.18,789.02 786.05,787.65 779.79,784.50 780.11,786.07 763.52,783.82ZM953.42,638.47 938.17,638.02 938.70,636.67 932.60,638.58 938.57,640.83 938.13,639.46 953.38,639.91ZM953.38,785.09 938.13,785.54 938.57,784.17 932.60,786.42 938.70,788.33 938.17,786.98 953.42,786.53ZM743.32,639.91 758.57,639.46 758.13,640.83 764.10,638.58 758.00,636.67 758.53,638.02 743.28,638.47ZM743.28,786.53 758.53,786.98 758.00,788.33 764.10,786.42 758.13,784.17 758.57,785.54 743.32,785.09ZM974.66,636.92 958.96,638.72 959.29,637.25 953.33,640.11 959.78,641.54 959.13,640.19 974.83,638.39ZM974.83,786.61 959.13,784.81 959.78,783.46 953.33,784.89 959.29,787.75 958.96,786.28 974.66,788.08ZM721.87,638.39 737.57,640.19 736.92,641.54 743.37,640.11 737.41,637.25 737.74,638.72 722.04,636.92ZM722.04,788.08 737.74,786.28 737.41,787.75 743.37,784.89 736.92,783.46 737.57,784.81 721.87,786.61ZM995.04,636.35 980.23,639.04 980.46,637.63 974.98,640.72 981.20,641.67 980.49,640.44 995.29,637.75ZM995.29,787.25 980.49,784.56 981.20,783.33 974.98,784.28 980.46,787.37 980.23,785.96 995.04,788.65ZM701.41,637.75 716.21,640.44 715.50,641.67 721.72,640.72 716.24,637.63 716.47,639.04 701.66,636.35ZM701.66,788.65 716.47,785.96 716.24,787.37 721.72,784.28 715.50,783.33 716.21,784.56 701.41,787.25ZM1015.06,635.17 1001.61,639.66 1001.64,638.33 996.93,641.94 1002.86,642.00 1002.04,640.96 1015.50,636.47ZM1015.50,788.53 1002.04,784.04 1002.86,783.00 996.93,783.06 1001.64,786.67 1001.61,785.34 1015.06,789.83ZM681.20,636.47 694.66,640.96 693.84,642.00 699.77,641.94 695.06,638.33 695.09,639.66 681.64,635.17ZM681.64,789.83 695.09,785.34 695.06,786.67 699.77,783.06 693.84,783.00 694.66,784.04 681.20,788.53ZM1035.77,634.89 1022.76,639.82 1022.74,638.52 1018.27,642.25 1024.08,642.07 1023.24,641.08 1036.25,636.15ZM1036.25,788.85 1023.24,783.92 1024.08,782.93 1018.27,782.75 1022.74,786.48 1022.76,785.18 1035.77,790.11ZM660.45,636.15 673.46,641.08 672.62,642.07 678.43,642.25 673.96,638.52 673.94,639.82 660.93,634.89ZM660.93,790.11 673.94,785.18 673.96,786.48 678.43,782.75 672.62,782.93 673.46,783.92 660.45,788.85ZM1056.47,634.60 1043.91,639.98 1043.84,638.71 1039.61,642.55 1045.31,642.14 1044.44,641.21 1057.00,635.82ZM1057.00,789.18 1044.44,783.79 1045.31,782.86 1039.61,782.45 1043.84,786.29 1043.91,785.02 1056.47,790.40ZM639.70,635.82 652.26,641.21 651.39,642.14 657.09,642.55 652.86,638.71 652.79,639.98 640.23,634.60ZM640.23,790.40 652.79,785.02 652.86,786.29 657.09,782.45 651.39,782.86 652.26,783.79 639.70,789.18ZM1076.89,634.63 1065.23,640.01 1065.13,638.83 1061.25,642.55 1066.60,642.01 1065.76,641.17 1077.42,635.79ZM1077.42,789.21 1065.76,783.83 1066.60,782.99 1061.25,782.45 1065.13,786.17 1065.23,784.99 1076.89,790.37ZM619.28,635.79 630.94,641.17 630.10,642.01 635.45,642.55 631.57,638.83 631.47,640.01 619.81,634.63ZM619.81,790.37 631.47,784.99 631.57,786.17 635.45,782.45 630.10,782.99 630.94,783.83 619.28,789.21ZM1097.62,634.65 1086.40,640.03 1086.29,638.89 1082.59,642.55 1087.76,641.95 1086.94,641.16 1098.16,635.77ZM1098.16,789.23 1086.94,783.84 1087.76,783.05 1082.59,782.45 1086.29,786.11 1086.40,784.97 1097.62,790.35ZM598.54,635.77 609.76,641.16 608.94,641.95 614.11,642.55 610.41,638.89 610.30,640.03 599.08,634.65ZM599.08,790.35 610.30,784.97 610.41,786.11 614.11,782.45 608.94,783.05 609.76,783.84 598.54,789.23ZM1118.07,635.29 1107.76,639.77 1107.71,638.76 1104.24,641.94 1108.93,641.57 1108.22,640.84 1118.54,636.36ZM1118.54,788.64 1108.22,784.16 1108.93,783.43 1104.24,783.06 1107.71,786.24 1107.76,785.23 1118.07,789.71ZM578.16,636.36 588.48,640.84 587.77,641.57 592.46,641.94 588.99,638.76 588.94,639.77 578.63,635.29ZM578.63,789.71 588.94,785.23 588.99,786.24 592.46,783.06 587.77,783.43 588.48,784.16 578.16,788.64ZM1138.08,635.80 1129.31,639.61 1129.27,638.78 1126.33,641.48 1130.31,641.17 1129.73,640.58 1138.50,636.76ZM1138.50,788.24 1129.73,784.42 1130.31,783.83 1126.33,783.52 1129.27,786.22 1129.31,785.39 1138.08,789.20ZM558.20,636.76 566.97,640.58 566.39,641.17 570.37,641.48 567.43,638.78 567.39,639.61 558.62,635.80ZM558.62,789.20 567.39,785.39 567.43,786.22 570.37,783.52 566.39,783.83 566.97,784.42 558.20,788.24ZM857.90,631.43 860.73,610.71 862.26,611.46 860.70,604.39 857.31,610.79 858.99,610.47 856.16,631.19ZM856.16,793.81 858.99,814.53 857.31,814.21 860.70,820.61 862.26,813.54 860.73,814.29 857.90,793.57ZM840.54,631.19 837.71,610.47 839.39,610.79 836.00,604.39 834.44,611.46 835.97,610.71 838.80,631.43ZM838.80,793.57 835.97,814.29 834.44,813.54 836.00,820.61 839.39,814.21 837.71,814.53 840.54,793.81ZM883.38,628.37 879.35,612.67 880.89,612.80 877.15,607.14 876.60,613.90 877.89,613.04 881.92,628.74ZM881.92,796.26 877.89,811.96 876.60,811.10 877.15,817.86 880.89,812.20 879.35,812.33 883.38,796.63ZM814.78,628.74 818.81,613.04 820.10,613.90 819.55,607.14 815.81,612.80 817.35,612.67 813.32,628.37ZM813.32,796.63 817.35,812.33 815.81,812.20 819.55,817.86 820.10,811.10 818.81,811.96 814.78,796.26ZM909.18,621.25 897.51,615.42 898.39,614.59 892.98,613.87 896.80,617.77 896.94,616.57 908.60,622.40ZM908.60,802.60 896.94,808.43 896.80,807.23 892.98,811.13 898.39,810.41 897.51,809.58 909.18,803.75ZM788.10,622.40 799.76,616.57 799.90,617.77 803.72,613.87 798.31,614.59 799.19,615.42 787.52,621.25ZM787.52,803.75 799.19,809.58 798.31,810.41 803.72,811.13 799.90,807.23 799.76,808.43 788.10,802.60ZM931.47,617.48 917.57,617.03 918.05,615.82 912.49,617.54 917.92,619.62 917.52,618.38 931.43,618.83ZM931.43,806.17 917.52,806.62 917.92,805.38 912.49,807.46 918.05,809.18 917.57,807.97 931.47,807.52ZM765.27,618.83 779.18,618.38 778.78,619.62 784.21,617.54 778.65,615.82 779.13,617.03 765.23,617.48ZM765.23,807.52 779.13,807.97 778.65,809.18 784.21,807.46 778.78,805.38 779.18,806.62 765.27,806.17ZM951.76,615.68 938.75,617.92 938.97,616.72 934.13,619.38 939.58,620.26 938.98,619.20 951.98,616.96ZM951.98,808.04 938.98,805.80 939.58,804.74 934.13,805.62 938.97,808.28 938.75,807.08 951.76,809.32ZM744.72,616.96 757.72,619.20 757.12,620.26 762.57,619.38 757.73,616.72 757.95,617.92 744.94,615.68ZM744.94,809.32 757.95,807.08 757.73,808.28 762.57,805.62 757.12,804.74 757.72,805.80 744.72,808.04ZM972.71,614.46 959.70,618.50 959.76,617.23 955.17,620.60 960.86,620.78 960.10,619.77 973.10,615.73ZM973.10,809.27 960.10,805.23 960.86,804.22 955.17,804.40 959.76,807.77 959.70,806.50 972.71,810.54ZM723.60,615.73 736.60,619.77 735.84,620.78 741.53,620.60 736.94,617.23 737.00,618.50 723.99,614.46ZM723.99,810.54 737.00,806.50 736.94,807.77 741.53,804.40 735.84,804.22 736.60,805.23 723.60,809.27ZM993.08,613.89 980.97,618.82 980.93,617.61 976.81,621.21 982.27,620.91 981.46,620.02 993.57,615.08ZM993.57,809.92 981.46,804.98 982.27,804.09 976.81,803.79 980.93,807.39 980.97,806.18 993.08,811.11ZM703.13,615.08 715.24,620.02 714.43,620.91 719.89,621.21 715.77,617.61 715.73,618.82 703.62,613.89ZM703.62,811.11 715.73,806.18 715.77,807.39 719.89,803.79 714.43,804.09 715.24,804.98 703.13,809.92ZM1014.08,613.28 1001.97,619.11 1001.84,617.87 997.84,621.82 1003.43,621.17 1002.54,620.30 1014.65,614.46ZM1014.65,810.54 1002.54,804.70 1003.43,803.83 997.84,803.18 1001.84,807.13 1001.97,805.89 1014.08,811.72ZM682.05,614.46 694.16,620.30 693.27,621.17 698.86,621.82 694.86,617.87 694.73,619.11 682.62,613.28ZM682.62,811.72 694.73,805.89 694.86,807.13 698.86,803.18 693.27,803.83 694.16,804.70 682.05,810.54ZM1034.78,612.99 1023.12,619.27 1022.94,618.06 1019.18,622.13 1024.65,621.24 1023.74,620.42 1035.40,614.14ZM1035.40,810.86 1023.74,804.58 1024.65,803.76 1019.18,802.87 1022.94,806.94 1023.12,805.73 1034.78,812.01ZM661.30,614.14 672.96,620.42 672.05,621.24 677.52,622.13 673.76,618.06 673.58,619.27 661.92,612.99ZM661.92,812.01 673.58,805.73 673.76,806.94 677.52,802.87 672.05,803.76 672.96,804.58 661.30,810.86ZM1055.20,613.03 1044.43,619.31 1044.23,618.18 1040.83,622.13 1045.94,621.11 1045.06,620.39 1055.83,614.11ZM1055.83,810.89 1045.06,804.61 1045.94,803.89 1040.83,802.87 1044.23,806.82 1044.43,805.69 1055.20,811.97ZM640.87,614.11 651.64,620.39 650.76,621.11 655.87,622.13 652.47,618.18 652.27,619.31 641.50,613.03ZM641.50,811.97 652.27,805.69 652.47,806.82 655.87,802.87 650.76,803.89 651.64,804.61 640.87,810.89ZM1075.92,613.04 1065.61,619.32 1065.39,618.24 1062.17,622.13 1067.11,621.05 1066.24,620.37 1076.56,614.09ZM1076.56,810.91 1066.24,804.63 1067.11,803.95 1062.17,802.87 1065.39,806.76 1065.61,805.68 1075.92,811.96ZM620.14,614.09 630.46,620.37 629.59,621.05 634.53,622.13 631.31,618.24 631.09,619.32 620.78,613.04ZM620.78,811.96 631.09,805.68 631.31,806.76 634.53,802.87 629.59,803.95 630.46,804.63 620.14,810.91ZM1096.67,613.36 1086.80,619.19 1086.62,618.17 1083.51,621.82 1088.21,620.86 1087.40,620.21 1097.27,614.38ZM1097.27,810.62 1087.40,804.79 1088.21,804.14 1083.51,803.18 1086.62,806.83 1086.80,805.81 1096.67,811.64ZM599.43,614.38 609.30,620.21 608.49,620.86 613.19,621.82 610.08,618.17 609.90,619.19 600.03,613.36ZM600.03,811.64 609.90,805.81 610.08,806.83 613.19,803.18 608.49,804.14 609.30,804.79 599.43,810.62ZM1117.39,613.38 1107.97,619.21 1107.78,618.23 1104.85,621.82 1109.37,620.80 1108.58,620.19 1118.00,614.36ZM1118.00,810.64 1108.58,804.81 1109.37,804.20 1104.85,803.18 1107.78,806.77 1107.97,805.79 1117.39,811.62ZM578.70,614.36 588.12,620.19 587.33,620.80 591.85,621.82 588.92,618.23 588.73,619.21 579.31,613.38ZM579.31,811.62 588.73,805.79 588.92,806.77 591.85,803.18 587.33,804.20 588.12,804.81 578.70,810.64ZM1137.49,614.03 1129.48,618.98 1129.34,618.18 1126.85,621.23 1130.69,620.36 1130.03,619.87 1138.04,614.91ZM1138.04,810.09 1130.03,805.13 1130.69,804.64 1126.85,803.77 1129.34,806.82 1129.48,806.02 1137.49,810.97ZM558.66,614.91 566.67,619.87 566.01,620.36 569.85,621.23 567.36,618.18 567.22,618.98 559.21,614.03ZM559.21,810.97 567.22,806.02 567.36,806.82 569.85,803.77 566.01,804.64 566.67,805.13 558.66,810.09ZM858.10,608.24 860.34,591.64 861.77,592.37 860.40,585.50 857.25,591.76 858.82,591.43 856.57,608.03ZM856.57,816.97 858.82,833.57 857.25,833.24 860.40,839.50 861.77,832.63 860.34,833.36 858.10,816.76ZM840.13,608.03 837.88,591.43 839.45,591.76 836.30,585.50 834.93,592.37 836.36,591.64 838.60,608.24ZM838.60,816.76 836.36,833.36 834.93,832.63 836.30,839.50 839.45,833.24 837.88,833.57 840.13,816.97ZM877.26,607.75 882.20,592.05 883.45,592.99 883.27,586.11 879.17,591.64 880.74,591.59 875.81,607.29ZM875.81,817.71 880.74,833.41 879.17,833.36 883.27,838.89 883.45,832.01 882.20,832.95 877.26,817.25ZM820.89,607.29 815.96,591.59 817.53,591.64 813.43,586.11 813.25,592.99 814.50,592.05 819.44,607.75ZM819.44,817.25 814.50,832.95 813.25,832.01 813.43,838.89 817.53,833.36 815.96,833.41 820.89,817.71ZM899.43,605.84 902.57,592.83 903.61,593.52 903.08,587.94 900.06,592.66 901.30,592.52 898.16,605.53ZM898.16,819.47 901.30,832.48 900.06,832.34 903.08,837.06 903.61,831.48 902.57,832.17 899.43,819.16ZM798.54,605.53 795.40,592.52 796.64,592.66 793.62,587.94 793.09,593.52 794.13,592.83 797.27,605.84ZM797.27,819.16 794.13,832.17 793.09,831.48 793.62,837.06 796.64,832.34 795.40,832.48 798.54,819.47ZM924.80,600.88 921.21,594.60 921.83,594.51 919.52,592.53 920.05,595.53 920.44,595.04 924.03,601.32ZM924.03,823.68 920.44,829.96 920.05,829.47 919.52,832.47 921.83,830.49 921.21,830.40 924.80,824.12ZM772.67,601.32 776.26,595.04 776.65,595.53 777.18,592.53 774.87,594.51 775.49,594.60 771.90,600.88ZM771.90,824.12 775.49,830.40 774.87,830.49 777.18,832.47 776.65,829.47 776.26,829.96 772.67,823.68ZM948.38,594.82 940.30,597.06 940.38,596.36 937.50,598.34 941.00,598.56 940.56,598.00 948.64,595.75ZM948.64,829.25 940.56,827.00 941.00,826.44 937.50,826.66 940.38,828.64 940.30,827.94 948.38,830.18ZM748.06,595.75 756.14,598.00 755.70,598.56 759.20,598.34 756.32,596.36 756.40,597.06 748.32,594.82ZM748.32,830.18 756.40,827.94 756.32,828.64 759.20,826.66 755.70,826.44 756.14,827.00 748.06,829.25ZM969.56,592.68 961.03,598.07 960.86,597.19 958.22,600.48 962.33,599.52 961.62,598.99 970.14,593.60ZM970.14,831.40 961.62,826.01 962.33,825.48 958.22,824.52 960.86,827.81 961.03,826.93 969.56,832.32ZM726.56,593.60 735.08,598.99 734.37,599.52 738.48,600.48 735.84,597.19 735.67,598.07 727.14,592.68ZM727.14,832.32 735.67,826.93 735.84,827.81 738.48,824.52 734.37,825.48 735.08,826.01 726.56,831.40ZM990.35,591.97 982.10,598.43 981.82,597.54 979.44,601.22 983.59,599.79 982.79,599.31 991.04,592.85ZM991.04,832.15 982.79,825.69 983.59,825.21 979.44,823.78 981.82,827.46 982.10,826.57 990.35,833.03ZM705.66,592.85 713.91,599.31 713.11,599.79 717.26,601.22 714.88,597.54 714.60,598.43 706.35,591.97ZM706.35,833.03 714.60,826.57 714.88,827.46 717.26,823.78 713.11,825.21 713.91,825.69 705.66,832.15ZM1011.83,591.16 1002.86,598.78 1002.49,597.77 999.99,602.01 1004.57,600.22 1003.64,599.70 1012.61,592.07ZM1012.61,832.93 1003.64,825.30 1004.57,824.78 999.99,822.99 1002.49,827.23 1002.86,826.22 1011.83,833.84ZM684.09,592.07 693.06,599.70 692.13,600.22 696.71,602.01 694.21,597.77 693.84,598.78 684.87,591.16ZM684.87,833.84 693.84,826.22 694.21,827.23 696.71,822.99 692.13,824.78 693.06,825.30 684.09,832.93ZM1032.56,591.17 1024.03,598.80 1023.66,597.84 1021.33,602.01 1025.74,600.16 1024.82,599.68 1033.34,592.05ZM1033.34,832.95 1024.82,825.32 1025.74,824.84 1021.33,822.99 1023.66,827.16 1024.03,826.20 1032.56,833.83ZM663.36,592.05 671.88,599.68 670.96,600.16 675.37,602.01 673.04,597.84 672.67,598.80 664.14,591.17ZM664.14,833.83 672.67,826.20 673.04,827.16 675.37,822.99 670.96,824.84 671.88,825.32 663.36,832.95ZM1053.57,590.87 1045.05,598.95 1044.63,597.96 1042.36,602.32 1046.83,600.29 1045.87,599.82 1054.40,591.74ZM1054.40,833.26 1045.87,825.18 1046.83,824.71 1042.36,822.68 1044.63,827.04 1045.05,826.05 1053.57,834.13ZM642.30,591.74 650.83,599.82 649.87,600.29 654.34,602.32 652.07,597.96 651.65,598.95 643.13,590.87ZM643.13,834.13 651.65,826.05 652.07,827.04 654.34,822.68 649.87,824.71 650.83,825.18 642.30,833.26ZM1074.29,590.89 1066.22,598.97 1065.79,598.03 1063.70,602.32 1067.99,600.23 1067.05,599.80 1075.13,591.73ZM1075.13,833.27 1067.05,825.20 1067.99,824.77 1063.70,822.68 1065.79,826.97 1066.22,826.03 1074.29,834.11ZM621.57,591.73 629.65,599.80 628.71,600.23 633.00,602.32 630.91,598.03 630.48,598.97 622.41,590.89ZM622.41,834.11 630.48,826.03 630.91,826.97 633.00,822.68 628.71,824.77 629.65,825.20 621.57,833.27ZM1095.33,590.89 1087.25,598.97 1086.82,598.03 1084.73,602.32 1089.03,600.23 1088.09,599.80 1096.16,591.73ZM1096.16,833.27 1088.09,825.20 1089.03,824.77 1084.73,822.68 1086.82,826.97 1087.25,826.03 1095.33,834.11ZM600.54,591.73 608.61,599.80 607.67,600.23 611.97,602.32 609.88,598.03 609.45,598.97 601.37,590.89ZM601.37,834.11 609.45,826.03 609.88,826.97 611.97,822.68 607.67,824.77 608.61,825.20 600.54,833.27ZM1116.40,591.50 1108.33,598.67 1107.98,597.77 1105.77,601.71 1109.94,599.97 1109.08,599.52 1117.16,592.35ZM1117.16,832.65 1109.08,825.48 1109.94,825.03 1105.77,823.29 1107.98,827.23 1108.33,826.33 1116.40,833.50ZM579.54,592.35 587.62,599.52 586.76,599.97 590.93,601.71 588.72,597.77 588.37,598.67 580.30,591.50ZM580.30,833.50 588.37,826.33 588.72,827.23 590.93,823.29 586.76,825.03 587.62,825.48 579.54,832.65ZM1136.64,592.27 1129.78,598.37 1129.51,597.63 1127.63,600.97 1131.17,599.50 1130.46,599.14 1137.33,593.04ZM1137.33,831.96 1130.46,825.86 1131.17,825.50 1127.63,824.03 1129.51,827.37 1129.78,826.63 1136.64,832.73ZM559.37,593.04 566.24,599.14 565.53,599.50 569.07,600.97 567.19,597.63 566.92,598.37 560.06,592.27ZM560.06,832.73 566.92,826.63 567.19,827.37 569.07,824.03 565.53,825.50 566.24,825.86 559.37,831.96ZM858.36,586.27 860.16,571.01 861.46,571.66 860.09,565.38 857.30,571.17 858.72,570.85 856.92,586.10ZM856.92,838.90 858.72,854.15 857.30,853.83 860.09,859.62 861.46,853.34 860.16,853.99 858.36,838.73ZM839.78,586.10 837.98,570.85 839.40,571.17 836.61,565.38 835.24,571.66 836.54,571.01 838.34,586.27ZM838.34,838.73 836.54,853.99 835.24,853.34 836.61,859.62 839.40,853.83 837.98,854.15 839.78,838.90ZM877.21,585.80 882.15,571.45 883.27,572.34 883.27,565.99 879.36,571.00 880.79,570.98 875.86,585.34ZM875.86,839.66 880.79,854.02 879.36,854.00 883.27,859.01 883.27,852.66 882.15,853.55 877.21,839.20ZM820.84,585.34 815.91,570.98 817.34,571.00 813.43,565.99 813.43,572.34 814.55,571.45 819.49,585.80ZM819.49,839.20 814.55,853.55 813.43,852.66 813.43,859.01 817.34,854.00 815.91,854.02 820.84,839.66ZM897.28,584.95 903.56,571.94 904.51,572.91 905.22,566.91 900.96,571.20 902.31,571.34 896.03,584.35ZM896.03,840.65 902.31,853.66 900.96,853.80 905.22,858.09 904.51,852.09 903.56,853.06 897.28,840.05ZM800.67,584.35 794.39,571.34 795.74,571.20 791.48,566.91 792.19,572.91 793.14,571.94 799.42,584.95ZM799.42,840.05 793.14,853.06 792.19,852.09 791.48,858.09 795.74,853.80 794.39,853.66 800.67,840.65ZM917.85,582.25 924.57,573.28 925.12,574.13 926.56,569.66 922.67,572.29 923.64,572.58 916.91,581.55ZM916.91,843.45 923.64,852.42 922.67,852.71 926.56,855.34 925.12,850.87 924.57,851.72 917.85,842.75ZM779.79,581.55 773.06,572.58 774.03,572.29 770.14,569.66 771.58,574.13 772.13,573.28 778.85,582.25ZM778.85,842.75 772.13,851.72 771.58,850.87 770.14,855.34 774.03,852.71 773.06,852.42 779.79,843.45ZM940.08,577.34 944.56,575.55 944.60,576.05 946.06,574.56 943.98,574.49 944.29,574.87 939.81,576.67ZM939.81,848.33 944.29,850.13 943.98,850.51 946.06,850.44 944.60,848.95 944.56,849.45 940.08,847.66ZM756.89,576.67 752.41,574.87 752.72,574.49 750.64,574.56 752.10,576.05 752.14,575.55 756.62,577.34ZM756.62,847.66 752.14,849.45 752.10,848.95 750.64,850.44 752.72,850.51 752.41,850.13 756.89,848.33ZM964.27,572.05 963.37,577.43 962.90,577.18 963.42,579.45 964.65,577.47 964.13,577.56 965.03,572.17ZM965.03,852.83 964.13,847.44 964.65,847.53 963.42,845.55 962.90,847.82 963.37,847.57 964.27,852.95ZM731.67,572.17 732.57,577.56 732.05,577.47 733.28,579.45 733.80,577.18 733.33,577.43 732.43,572.05ZM732.43,852.95 733.33,847.57 733.80,847.82 733.28,845.55 732.05,847.53 732.57,847.44 731.67,852.83ZM987.39,570.35 983.35,577.97 982.87,577.41 982.32,580.98 984.95,578.52 984.22,578.44 988.26,570.81ZM988.26,854.19 984.22,846.56 984.95,846.48 982.32,844.02 982.87,847.59 983.35,847.03 987.39,854.65ZM708.44,570.81 712.48,578.44 711.75,578.52 714.38,580.98 713.83,577.41 713.35,577.97 709.31,570.35ZM709.31,854.65 713.35,847.03 713.83,847.59 714.38,844.02 711.75,846.48 712.48,846.56 708.44,854.19ZM1008.68,569.42 1004.19,578.39 1003.59,577.74 1003.04,581.90 1006.04,578.96 1005.16,578.88 1009.65,569.91ZM1009.65,855.09 1005.16,846.12 1006.04,846.04 1003.04,843.10 1003.59,847.26 1004.19,846.61 1008.68,855.58ZM687.05,569.91 691.54,578.88 690.66,578.96 693.66,581.90 693.11,577.74 692.51,578.39 688.02,569.42ZM688.02,855.58 692.51,846.61 693.11,847.26 693.66,843.10 690.66,846.04 691.54,846.12 687.05,855.09ZM1030.04,569.70 1025.10,578.22 1024.56,577.55 1023.77,581.59 1026.89,578.89 1026.03,578.76 1030.97,570.24ZM1030.97,854.76 1026.03,846.24 1026.89,846.11 1023.77,843.41 1024.56,847.45 1025.10,846.78 1030.04,855.30ZM665.73,570.24 670.67,578.76 669.81,578.89 672.93,581.59 672.14,577.55 671.60,578.22 666.66,569.70ZM666.66,855.30 671.60,846.78 672.14,847.45 672.93,843.41 669.81,846.11 670.67,846.24 665.73,854.76ZM1051.38,569.68 1046.00,578.20 1045.47,577.49 1044.50,581.59 1047.79,578.96 1046.92,578.78 1052.30,570.26ZM1052.30,854.74 1046.92,846.22 1047.79,846.04 1044.50,843.41 1045.47,847.51 1046.00,846.80 1051.38,855.32ZM644.40,570.26 649.78,578.78 648.91,578.96 652.20,581.59 651.23,577.49 650.70,578.20 645.32,569.68ZM645.32,855.32 650.70,846.80 651.23,847.51 652.20,843.41 648.91,846.04 649.78,846.22 644.40,854.74ZM1072.42,569.68 1067.03,578.20 1066.50,577.49 1065.53,581.59 1068.83,578.96 1067.95,578.78 1073.33,570.26ZM1073.33,854.74 1067.95,846.22 1068.83,846.04 1065.53,843.41 1066.50,847.51 1067.03,846.80 1072.42,855.32ZM623.37,570.26 628.75,578.78 627.87,578.96 631.17,581.59 630.20,577.49 629.67,578.20 624.28,569.68ZM624.28,855.32 629.67,846.80 630.20,847.51 631.17,843.41 627.87,846.04 628.75,846.22 623.37,854.74ZM1093.45,569.68 1088.07,578.20 1087.53,577.49 1086.57,581.59 1089.86,578.96 1088.99,578.78 1094.37,570.26ZM1094.37,854.74 1088.99,846.22 1089.86,846.04 1086.57,843.41 1087.53,847.51 1088.07,846.80 1093.45,855.32ZM602.33,570.26 607.71,578.78 606.84,578.96 610.13,581.59 609.17,577.49 608.63,578.20 603.25,569.68ZM603.25,855.32 608.63,846.80 609.17,847.51 610.13,843.41 606.84,846.04 607.71,846.22 602.33,854.74ZM1113.90,570.33 1109.41,577.95 1108.95,577.35 1108.21,580.98 1111.03,578.58 1110.28,578.46 1114.76,570.83ZM1114.76,854.17 1110.28,846.54 1111.03,846.42 1108.21,844.02 1108.95,847.65 1109.41,847.05 1113.90,854.67ZM581.94,570.83 586.42,578.46 585.67,578.58 588.49,580.98 587.75,577.35 587.29,577.95 582.80,570.33ZM582.80,854.67 587.29,847.05 587.75,847.65 588.49,844.02 585.67,846.42 586.42,846.54 581.94,854.17ZM1134.51,571.13 1130.70,577.61 1130.31,577.10 1129.71,580.20 1132.12,578.17 1131.49,578.07 1135.30,571.59ZM1135.30,853.41 1131.49,846.93 1132.12,846.83 1129.71,844.80 1130.31,847.90 1130.70,847.39 1134.51,853.87ZM561.40,571.59 565.21,578.07 564.58,578.17 566.99,580.20 566.39,577.10 566.00,577.61 562.19,571.13ZM562.19,853.87 566.00,847.39 566.39,847.90 566.99,844.80 564.58,846.83 565.21,846.93 561.40,853.41ZM858.70,565.82 860.04,549.67 861.45,550.31 859.78,543.74 857.05,549.94 858.54,549.55 857.20,565.70ZM857.20,859.30 858.54,875.45 857.05,875.06 859.78,881.26 861.45,874.69 860.04,875.33 858.70,859.18ZM839.50,565.70 838.16,549.55 839.65,549.94 836.92,543.74 835.25,550.31 836.66,549.67 838.00,565.82ZM838.00,859.18 836.66,875.33 835.25,874.69 836.92,881.26 839.65,875.06 838.16,875.45 839.50,859.30ZM877.26,565.68 882.20,549.98 883.45,550.92 883.27,544.04 879.17,549.58 880.74,549.53 875.81,565.22ZM875.81,859.78 880.74,875.47 879.17,875.42 883.27,880.96 883.45,874.08 882.20,875.02 877.26,859.32ZM820.89,565.22 815.96,549.53 817.53,549.58 813.43,544.04 813.25,550.92 814.50,549.98 819.44,565.68ZM819.44,859.32 814.50,875.02 813.25,874.08 813.43,880.96 817.53,875.42 815.96,875.47 820.89,859.78ZM897.29,564.22 903.57,550.77 904.57,551.75 905.22,545.57 900.90,550.04 902.29,550.17 896.01,563.62ZM896.01,861.38 902.29,874.83 900.90,874.96 905.22,879.43 904.57,873.25 903.57,874.23 897.29,860.78ZM800.69,563.62 794.41,550.17 795.80,550.04 791.48,545.57 792.13,551.75 793.13,550.77 799.41,564.22ZM799.41,860.78 793.13,874.23 792.13,873.25 791.48,879.43 795.80,874.96 794.41,874.83 800.69,861.38ZM916.97,562.18 925.05,551.86 925.69,552.89 927.47,547.71 922.87,550.69 924.03,551.07 915.95,561.38ZM915.95,863.62 924.03,873.93 922.87,874.31 927.47,877.29 925.69,872.11 925.05,873.14 916.97,862.82ZM780.75,561.38 772.67,551.07 773.83,550.69 769.23,547.71 771.01,552.89 771.65,551.86 779.73,562.18ZM779.73,862.82 771.65,873.14 771.01,872.11 769.23,877.29 773.83,874.31 772.67,873.93 780.75,863.62ZM937.17,558.89 946.14,553.51 946.31,554.43 949.12,551.08 944.84,551.98 945.57,552.56 936.60,557.94ZM936.60,867.06 945.57,872.44 944.84,873.02 949.12,873.92 946.31,870.57 946.14,871.49 937.17,866.11ZM760.10,557.94 751.13,552.56 751.86,551.98 747.58,551.08 750.39,554.43 750.56,553.51 759.53,558.89ZM759.53,866.11 750.56,871.49 750.39,870.57 747.58,873.92 751.86,873.02 751.13,872.44 760.10,867.06ZM959.10,554.76 966.28,555.39 966.00,555.95 968.93,555.18 966.18,553.91 966.36,554.50 959.18,553.87ZM959.18,871.13 966.36,870.50 966.18,871.09 968.93,869.82 966.00,869.05 966.28,869.61 959.10,870.24ZM737.52,553.87 730.34,554.50 730.52,553.91 727.77,555.18 730.70,555.95 730.42,555.39 737.60,554.76ZM737.60,870.24 730.42,869.61 730.70,869.05 727.77,869.82 730.52,871.09 730.34,870.50 737.52,871.13ZM982.25,551.00 985.84,556.83 985.25,556.94 987.52,558.72 986.95,555.89 986.58,556.37 982.99,550.54ZM982.99,874.46 986.58,868.63 986.95,869.11 987.52,866.28 985.25,868.06 985.84,868.17 982.25,874.00ZM713.71,550.54 710.12,556.37 709.75,555.89 709.18,558.72 711.45,556.94 710.86,556.83 714.45,551.00ZM714.45,874.00 710.86,868.17 711.45,868.06 709.18,866.28 709.75,869.11 710.12,868.63 713.71,874.46ZM1005.31,548.96 1005.76,557.48 1005.07,557.25 1006.41,560.56 1007.39,557.13 1006.74,557.43 1006.29,548.91ZM1006.29,876.09 1006.74,867.57 1007.39,867.87 1006.41,864.44 1005.07,867.75 1005.76,867.52 1005.31,876.04ZM690.41,548.91 689.96,557.43 689.31,557.13 690.29,560.56 691.63,557.25 690.94,557.48 691.39,548.96ZM691.39,876.04 690.94,867.52 691.63,867.75 690.29,864.44 689.31,867.87 689.96,867.57 690.41,876.09ZM1027.26,548.88 1026.36,557.41 1025.72,557.07 1026.53,560.56 1028.04,557.31 1027.34,557.51 1028.24,548.99ZM1028.24,876.01 1027.34,867.49 1028.04,867.69 1026.53,864.44 1025.72,867.93 1026.36,867.59 1027.26,876.12ZM668.46,548.99 669.36,557.51 668.66,557.31 670.17,560.56 670.98,557.07 670.34,557.41 669.44,548.88ZM669.44,876.12 670.34,867.59 670.98,867.93 670.17,864.44 668.66,867.69 669.36,867.49 668.46,876.01ZM1049.18,548.20 1046.94,557.62 1046.24,557.14 1046.64,561.17 1048.81,557.75 1047.97,557.87 1050.22,548.45ZM1050.22,876.55 1047.97,867.13 1048.81,867.25 1046.64,863.83 1046.24,867.86 1046.94,867.38 1049.18,876.80ZM646.48,548.45 648.73,557.87 647.89,557.75 650.06,561.17 650.46,557.14 649.76,557.62 647.52,548.20ZM647.52,876.80 649.76,867.38 650.46,867.86 650.06,863.83 647.89,867.25 648.73,867.13 646.48,876.55ZM1070.82,547.85 1067.68,557.72 1066.96,557.14 1067.06,561.48 1069.65,558.00 1068.73,558.05 1071.87,548.19ZM1071.87,876.81 1068.73,866.95 1069.65,867.00 1067.06,863.52 1066.96,867.86 1067.68,867.28 1070.82,877.15ZM624.83,548.19 627.97,558.05 627.05,558.00 629.64,561.48 629.74,557.14 629.02,557.72 625.88,547.85ZM625.88,877.15 629.02,867.28 629.74,867.86 629.64,863.52 627.05,867.00 627.97,866.95 624.83,876.81ZM1091.56,548.18 1088.87,557.60 1088.18,557.08 1088.40,561.17 1090.75,557.81 1089.90,557.89 1092.59,548.47ZM1092.59,876.53 1089.90,867.11 1090.75,867.19 1088.40,863.83 1088.18,867.92 1088.87,867.40 1091.56,876.82ZM604.11,548.47 606.80,557.89 605.95,557.81 608.30,561.17 608.52,557.08 607.83,557.60 605.14,548.18ZM605.14,876.82 607.83,867.40 608.52,867.92 608.30,863.83 605.95,867.19 606.80,867.11 604.11,876.53ZM1113.23,548.43 1109.64,557.40 1109.02,556.83 1108.82,560.86 1111.47,557.81 1110.62,557.80 1114.21,548.83ZM1114.21,876.17 1110.62,867.20 1111.47,867.19 1108.82,864.14 1109.02,868.17 1109.64,867.60 1113.23,876.57ZM582.49,548.83 586.08,557.80 585.23,557.81 587.88,560.86 587.68,556.83 587.06,557.40 583.47,548.43ZM583.47,876.57 587.06,867.60 587.68,868.17 587.88,864.14 585.23,867.19 586.08,867.20 582.49,876.17ZM1133.94,549.37 1130.89,556.99 1130.39,556.51 1130.23,559.95 1132.47,557.35 1131.78,557.35 1134.83,549.73ZM1134.83,875.27 1131.78,867.65 1132.47,867.65 1130.23,865.05 1130.39,868.49 1130.89,868.01 1133.94,875.63ZM561.87,549.73 564.92,557.35 564.23,557.35 566.47,559.95 566.31,556.51 565.81,556.99 562.76,549.37ZM562.76,875.63 565.81,868.01 566.31,868.49 566.47,865.05 564.23,867.65 564.92,867.65 561.87,875.27ZM858.97,544.16 859.87,528.90 861.20,529.47 859.48,523.31 857.04,529.22 858.43,528.82 857.54,544.07ZM857.54,880.93 858.43,896.18 857.04,895.78 859.48,901.69 861.20,895.53 859.87,896.10 858.97,880.84ZM839.16,544.07 838.27,528.82 839.66,529.22 837.22,523.31 835.50,529.47 836.83,528.90 837.73,544.16ZM837.73,880.84 836.83,896.10 835.50,895.53 837.22,901.69 839.66,895.78 838.27,896.18 839.16,880.93ZM877.54,544.02 882.02,529.22 883.20,530.09 882.96,523.62 879.17,528.86 880.63,528.79 876.15,543.60ZM876.15,881.40 880.63,896.21 879.17,896.14 882.96,901.38 883.20,894.91 882.02,895.78 877.54,880.98ZM820.55,543.60 816.07,528.79 817.53,528.86 813.74,523.62 813.50,530.09 814.68,529.22 819.16,544.02ZM819.16,880.98 814.68,895.78 813.50,894.91 813.74,901.38 817.53,896.14 816.07,896.21 820.55,881.40ZM897.28,542.88 903.56,529.88 904.51,530.84 905.22,524.84 900.96,529.13 902.31,529.27 896.03,542.28ZM896.03,882.72 902.31,895.73 900.96,895.87 905.22,900.16 904.51,894.16 903.56,895.12 897.28,882.12ZM800.67,542.28 794.39,529.27 795.74,529.13 791.48,524.84 792.19,530.84 793.14,529.88 799.42,542.88ZM799.42,882.12 793.14,895.12 792.19,894.16 791.48,900.16 795.74,895.87 794.39,895.73 800.67,882.72ZM917.26,540.82 924.89,530.96 925.50,531.93 927.17,526.98 922.81,529.85 923.90,530.19 916.27,540.06ZM916.27,884.94 923.90,894.81 922.81,895.15 927.17,898.02 925.50,893.07 924.89,894.04 917.26,884.18ZM780.43,540.06 772.80,530.19 773.89,529.85 769.53,526.98 771.20,531.93 771.81,530.96 779.44,540.82ZM779.44,884.18 771.81,894.04 771.20,893.07 769.53,898.02 773.89,895.15 772.80,894.81 780.43,884.94ZM936.90,538.48 946.32,532.20 946.56,533.20 949.43,529.43 944.84,530.63 945.67,531.23 936.25,537.51ZM936.25,887.49 945.67,893.77 944.84,894.37 949.43,895.57 946.56,891.80 946.32,892.80 936.90,886.52ZM760.45,537.51 751.03,531.23 751.86,530.63 747.27,529.43 750.14,533.20 750.38,532.20 759.80,538.48ZM759.80,886.52 750.38,892.80 750.14,891.80 747.27,895.57 751.86,894.37 751.03,893.77 760.45,887.49ZM957.76,536.06 967.18,533.37 967.10,534.23 970.46,531.88 966.37,531.66 966.88,532.34 957.47,535.03ZM957.47,889.97 966.88,892.66 966.37,893.34 970.46,893.12 967.10,890.77 967.18,891.63 957.76,888.94ZM739.23,535.03 729.82,532.34 730.33,531.66 726.24,531.88 729.60,534.23 729.52,533.37 738.94,536.06ZM738.94,888.94 729.52,891.63 729.60,890.77 726.24,893.12 730.33,893.34 729.82,892.66 739.23,889.97ZM979.11,532.36 987.63,535.05 987.14,535.65 990.88,535.55 987.88,533.32 987.93,534.09 979.41,531.40ZM979.41,893.60 987.93,890.91 987.88,891.68 990.88,889.45 987.14,889.35 987.63,889.95 979.11,892.64ZM717.29,531.40 708.77,534.09 708.82,533.32 705.82,535.55 709.56,535.65 709.07,535.05 717.59,532.36ZM717.59,892.64 709.07,889.95 709.56,889.35 705.82,889.45 708.82,891.68 708.77,890.91 717.29,893.60ZM1002.67,529.70 1007.15,535.98 1006.52,536.13 1009.16,538.00 1008.25,534.89 1007.91,535.44 1003.42,529.16ZM1003.42,895.84 1007.91,889.56 1008.25,890.11 1009.16,887.00 1006.52,888.87 1007.15,889.02 1002.67,895.30ZM693.28,529.16 688.79,535.44 688.45,534.89 687.54,538.00 690.18,536.13 689.55,535.98 694.03,529.70ZM694.03,895.30 689.55,889.02 690.18,888.87 687.54,887.00 688.45,890.11 688.79,889.56 693.28,895.84ZM1024.53,528.39 1027.67,536.46 1026.93,536.45 1029.28,539.22 1029.14,535.60 1028.60,536.10 1025.46,528.03ZM1025.46,896.97 1028.60,888.90 1029.14,889.40 1029.28,885.78 1026.93,888.55 1027.67,888.54 1024.53,896.61ZM671.24,528.03 668.10,536.10 667.56,535.60 667.42,539.22 669.77,536.45 669.03,536.46 672.17,528.39ZM672.17,896.61 669.03,888.54 669.77,888.55 667.42,885.78 667.56,889.40 668.10,888.90 671.24,896.97ZM1047.05,527.65 1047.95,536.62 1047.20,536.40 1048.78,539.83 1049.65,536.16 1048.96,536.52 1048.06,527.54ZM1048.06,897.46 1048.96,888.48 1049.65,888.84 1048.78,885.17 1047.20,888.60 1047.95,888.38 1047.05,897.35ZM648.64,527.54 647.74,536.52 647.05,536.16 647.92,539.83 649.50,536.40 648.75,536.62 649.65,527.65ZM649.65,897.35 648.75,888.38 649.50,888.60 647.92,885.17 647.05,888.84 647.74,888.48 648.64,897.46ZM1068.39,527.62 1068.84,536.59 1068.11,536.34 1069.51,539.83 1070.56,536.22 1069.85,536.54 1069.40,527.57ZM1069.40,897.43 1069.85,888.46 1070.56,888.78 1069.51,885.17 1068.11,888.66 1068.84,888.41 1068.39,897.38ZM627.30,527.57 626.85,536.54 626.14,536.22 627.19,539.83 628.59,536.34 627.86,536.59 628.31,527.62ZM628.31,897.38 627.86,888.41 628.59,888.66 627.19,885.17 626.14,888.78 626.85,888.46 627.30,897.43ZM1090.65,527.52 1089.31,536.49 1088.63,536.10 1089.32,539.83 1091.08,536.47 1090.31,536.64 1091.66,527.67ZM1091.66,897.33 1090.31,888.36 1091.08,888.53 1089.32,885.17 1088.63,888.90 1089.31,888.51 1090.65,897.48ZM605.04,527.67 606.39,536.64 605.62,536.47 607.38,539.83 608.07,536.10 607.39,536.49 606.05,527.52ZM606.05,897.48 607.39,888.51 608.07,888.90 607.38,885.17 605.62,888.53 606.39,888.36 605.04,897.33ZM1111.70,527.82 1110.36,536.35 1109.72,535.97 1110.35,539.52 1112.05,536.34 1111.33,536.50 1112.68,527.98ZM1112.68,897.02 1111.33,888.50 1112.05,888.66 1110.35,885.48 1109.72,889.03 1110.36,888.65 1111.70,897.18ZM584.02,527.98 585.37,536.50 584.65,536.34 586.35,539.52 586.98,535.97 586.34,536.35 585.00,527.82ZM585.00,897.18 586.34,888.65 586.98,889.03 586.35,885.48 584.65,888.66 585.37,888.50 584.02,897.02ZM1132.64,528.70 1131.50,535.95 1130.96,535.63 1131.53,538.65 1133.00,535.95 1132.39,536.09 1133.53,528.84ZM1133.53,896.16 1132.39,888.91 1133.00,889.05 1131.53,886.35 1130.96,889.37 1131.50,889.05 1132.64,896.30ZM563.17,528.84 564.31,536.09 563.70,535.95 565.17,538.65 565.74,535.63 565.20,535.95 564.06,528.70ZM564.06,896.30 565.20,889.05 565.74,889.37 565.17,886.35 563.70,889.05 564.31,888.91 563.17,896.16ZM858.96,522.82 859.86,508.01 861.14,508.56 859.48,502.59 857.10,508.32 858.45,507.93 857.55,522.73ZM857.55,902.27 858.45,917.07 857.10,916.68 859.48,922.41 861.14,916.44 859.86,916.99 858.96,902.18ZM839.15,522.73 838.25,507.93 839.60,508.32 837.22,502.59 835.56,508.56 836.84,508.01 837.74,522.82ZM837.74,902.18 836.84,916.99 835.56,916.44 837.22,922.41 839.60,916.68 838.25,917.07 839.15,902.27ZM877.55,523.29 882.04,508.04 883.27,508.92 882.96,502.28 879.11,507.70 880.62,507.62 876.13,522.87ZM876.13,902.13 880.62,917.38 879.11,917.30 882.96,922.72 883.27,916.08 882.04,916.96 877.55,901.71ZM820.57,522.87 816.08,507.62 817.59,507.70 813.74,502.28 813.43,508.92 814.66,508.04 819.15,523.29ZM819.15,901.71 814.66,916.96 813.43,916.08 813.74,922.72 817.59,917.30 816.08,917.38 820.57,902.13ZM897.28,521.85 903.56,508.84 904.51,509.81 905.22,503.81 900.96,508.10 902.31,508.24 896.03,521.25ZM896.03,903.75 902.31,916.76 900.96,916.90 905.22,921.19 904.51,915.19 903.56,916.16 897.28,903.15ZM800.67,521.25 794.39,508.24 795.74,508.10 791.48,503.81 792.19,509.81 793.14,508.84 799.42,521.85ZM799.42,903.15 793.14,916.16 792.19,915.19 791.48,921.19 795.74,916.90 794.39,916.76 800.67,903.75ZM917.30,520.40 924.92,509.63 925.62,510.64 927.17,505.34 922.68,508.56 923.86,508.88 916.24,519.64ZM916.24,905.36 923.86,916.12 922.68,916.44 927.17,919.66 925.62,914.36 924.92,915.37 917.30,904.60ZM780.46,519.64 772.84,508.88 774.02,508.56 769.53,505.34 771.08,510.64 771.78,509.63 779.40,520.40ZM779.40,904.60 771.78,915.37 771.08,914.36 769.53,919.66 774.02,916.44 772.84,916.12 780.46,905.36ZM936.94,518.05 946.36,510.88 946.68,511.91 949.43,507.79 944.72,509.34 945.63,509.92 936.21,517.09ZM936.21,907.91 945.63,915.08 944.72,915.66 949.43,917.21 946.68,913.09 946.36,914.12 936.94,906.95ZM760.49,517.09 751.07,509.92 751.98,509.34 747.27,507.79 750.02,511.91 750.34,510.88 759.76,518.05ZM759.76,906.95 750.34,914.12 750.02,913.09 747.27,917.21 751.98,915.66 751.07,915.08 760.49,907.91ZM957.52,515.95 967.39,511.92 967.41,512.87 970.77,509.93 966.31,510.18 966.96,510.87 957.09,514.91ZM957.09,910.09 966.96,914.13 966.31,914.82 970.77,915.07 967.41,912.13 967.39,913.08 957.52,909.05ZM739.61,514.91 729.74,510.87 730.39,510.18 725.93,509.93 729.29,512.87 729.31,511.92 739.18,515.95ZM739.18,909.05 729.31,913.08 729.29,912.13 725.93,915.07 730.39,914.82 729.74,914.13 739.61,910.09ZM978.34,513.22 988.21,513.22 987.90,514.03 991.80,512.68 987.90,511.33 988.21,512.14 978.34,512.14ZM978.34,912.86 988.21,912.86 987.90,913.67 991.80,912.32 987.90,910.97 988.21,911.78 978.34,911.78ZM718.36,512.14 708.49,512.14 708.80,511.33 704.90,512.68 708.80,514.03 708.49,513.22 718.36,513.22ZM718.36,911.78 708.49,911.78 708.80,910.97 704.90,912.32 708.80,913.67 708.49,912.86 718.36,912.86ZM1000.97,510.35 1008.15,514.38 1007.61,514.81 1011.00,515.43 1008.71,512.86 1008.62,513.54 1001.44,509.51ZM1001.44,915.49 1008.62,911.46 1008.71,912.14 1011.00,909.57 1007.61,910.19 1008.15,910.62 1000.97,914.65ZM695.26,509.51 688.08,513.54 687.99,512.86 685.70,515.43 689.09,514.81 688.55,514.38 695.73,510.35ZM695.73,914.65 688.55,910.62 689.09,910.19 685.70,909.57 687.99,912.14 688.08,911.46 695.26,915.49ZM1023.10,508.71 1028.48,514.99 1027.82,515.21 1030.81,516.96 1029.53,513.74 1029.21,514.36 1023.83,508.08ZM1023.83,916.92 1029.21,910.64 1029.53,911.26 1030.81,908.04 1027.82,909.79 1028.48,910.01 1023.10,916.29ZM672.87,508.08 667.49,514.36 667.17,513.74 665.89,516.96 668.88,515.21 668.22,514.99 673.60,508.71ZM673.60,916.29 668.22,910.01 668.88,909.79 665.89,908.04 667.17,911.26 667.49,910.64 672.87,916.92ZM1045.30,508.00 1048.89,515.17 1048.22,515.22 1050.62,517.57 1050.18,514.25 1049.74,514.75 1046.15,507.57ZM1046.15,917.43 1049.74,910.25 1050.18,910.75 1050.62,907.43 1048.22,909.78 1048.89,909.83 1045.30,917.00ZM650.55,507.57 646.96,514.75 646.52,514.25 646.08,517.57 648.48,515.22 647.81,515.17 651.40,508.00ZM651.40,917.00 647.81,909.83 648.48,909.78 646.08,907.43 646.52,910.75 646.96,910.25 650.55,917.43ZM1067.19,506.99 1069.43,515.52 1068.68,515.43 1070.73,518.49 1071.01,514.81 1070.40,515.26 1068.16,506.74ZM1068.16,918.26 1070.40,909.74 1071.01,910.19 1070.73,906.51 1068.68,909.57 1069.43,909.48 1067.19,918.01ZM628.54,506.74 626.30,515.26 625.69,514.81 625.97,518.49 628.02,515.43 627.27,515.52 629.51,506.99ZM629.51,918.01 627.27,909.48 628.02,909.57 625.97,906.51 625.69,910.19 626.30,909.74 628.54,918.26ZM1088.51,506.66 1090.31,515.63 1089.53,515.49 1091.46,518.80 1091.98,515.00 1091.31,515.43 1089.52,506.46ZM1089.52,918.54 1091.31,909.57 1091.98,910.00 1091.46,906.20 1089.53,909.51 1090.31,909.37 1088.51,918.34ZM607.18,506.46 605.39,515.43 604.72,515.00 605.24,518.80 607.17,515.49 606.39,515.63 608.19,506.66ZM608.19,918.34 606.39,909.37 607.17,909.51 605.24,906.20 604.72,910.00 605.39,909.57 607.18,918.54ZM1110.48,506.89 1110.92,515.42 1110.24,515.18 1111.58,518.49 1112.56,515.06 1111.90,515.36 1111.46,506.84ZM1111.46,918.16 1111.90,909.64 1112.56,909.94 1111.58,906.51 1110.24,909.82 1110.92,909.58 1110.48,918.11ZM585.24,506.84 584.80,515.36 584.14,515.06 585.12,518.49 586.46,515.18 585.78,515.42 586.22,506.89ZM586.22,918.11 585.78,909.58 586.46,909.82 585.12,906.51 584.14,909.94 584.80,909.64 585.24,918.16ZM1131.60,507.76 1131.98,515.01 1131.39,514.81 1132.57,517.62 1133.44,514.70 1132.87,514.96 1132.49,507.72ZM1132.49,917.28 1132.87,910.04 1133.44,910.30 1132.57,907.38 1131.39,910.19 1131.98,909.99 1131.60,917.24ZM564.21,507.72 563.83,514.96 563.26,514.70 564.13,517.62 565.31,514.81 564.72,515.01 565.10,507.76ZM565.10,917.24 564.72,909.99 565.31,910.19 564.13,907.38 563.26,910.30 563.83,910.04 564.21,917.28ZM859.17,501.15 859.71,487.25 860.92,487.74 859.23,482.16 857.12,487.59 858.36,487.20 857.83,501.10ZM857.83,923.90 858.36,937.80 857.12,937.41 859.23,942.84 860.92,937.26 859.71,937.75 859.17,923.85ZM838.87,501.10 838.34,487.20 839.58,487.59 837.47,482.16 835.78,487.74 836.99,487.25 837.53,501.15ZM837.53,923.85 836.99,937.75 835.78,937.26 837.47,942.84 839.58,937.41 838.34,937.80 838.87,923.90ZM877.83,501.63 881.87,487.27 883.01,488.09 882.65,481.86 879.10,486.98 880.50,486.89 876.47,501.24ZM876.47,923.76 880.50,938.11 879.10,938.02 882.65,943.14 883.01,936.91 881.87,937.73 877.83,923.37ZM820.23,501.24 816.20,486.89 817.60,486.98 814.05,481.86 813.69,488.09 814.83,487.27 818.87,501.63ZM818.87,923.37 814.83,937.73 813.69,936.91 814.05,943.14 817.60,938.02 816.20,938.11 820.23,923.76ZM897.28,500.82 903.56,487.81 904.51,488.78 905.22,482.78 900.96,487.06 902.31,487.21 896.03,500.22ZM896.03,924.78 902.31,937.79 900.96,937.94 905.22,942.22 904.51,936.22 903.56,937.19 897.28,924.18ZM800.67,500.22 794.39,487.21 795.74,487.06 791.48,482.78 792.19,488.78 793.14,487.81 799.42,500.82ZM799.42,924.18 793.14,937.19 792.19,936.22 791.48,942.22 795.74,937.94 794.39,937.79 800.67,924.78ZM917.30,499.36 924.92,488.60 925.62,489.60 927.17,484.30 922.68,487.52 923.86,487.85 916.24,498.61ZM916.24,926.39 923.86,937.15 922.68,937.48 927.17,940.70 925.62,935.40 924.92,936.40 917.30,925.64ZM780.46,498.61 772.84,487.85 774.02,487.52 769.53,484.30 771.08,489.60 771.78,488.60 779.40,499.36ZM779.40,925.64 771.78,936.40 771.08,935.40 769.53,940.70 774.02,937.48 772.84,937.15 780.46,926.39ZM936.98,497.62 946.40,489.55 946.80,490.62 949.43,486.14 944.60,488.05 945.59,488.60 936.17,496.68ZM936.17,928.32 945.59,936.40 944.60,936.95 949.43,938.86 946.80,934.38 946.40,935.45 936.98,927.38ZM760.53,496.68 751.11,488.60 752.10,488.05 747.27,486.14 749.90,490.62 750.30,489.55 759.72,497.62ZM759.72,927.38 750.30,935.45 749.90,934.38 747.27,938.86 752.10,936.95 751.11,936.40 760.53,928.32ZM957.59,495.83 967.45,490.45 967.60,491.45 970.77,487.98 966.13,488.76 966.89,489.42 957.03,494.80ZM957.03,930.20 966.89,935.58 966.13,936.24 970.77,937.02 967.60,933.55 967.45,934.55 957.59,929.17ZM739.67,494.80 729.81,489.42 730.57,488.76 725.93,487.98 729.10,491.45 729.25,490.45 739.11,495.83ZM739.11,929.17 729.25,934.55 729.10,933.55 725.93,937.02 730.57,936.24 729.81,935.58 739.67,930.20ZM978.13,493.42 988.45,491.62 988.27,492.54 992.10,490.42 987.78,489.72 988.26,490.53 977.94,492.32ZM977.94,932.68 988.26,934.47 987.78,935.28 992.10,934.58 988.27,932.46 988.45,933.38 978.13,931.58ZM718.76,492.32 708.44,490.53 708.92,489.72 704.60,490.42 708.43,492.54 708.25,491.62 718.57,493.42ZM718.57,931.58 708.25,933.38 708.43,932.46 704.60,934.58 708.92,935.28 708.44,934.47 718.76,932.68ZM999.58,490.94 1009.00,492.73 1008.56,493.44 1012.53,492.87 1009.05,490.87 1009.20,491.70 999.78,489.90ZM999.78,935.10 1009.20,933.30 1009.05,934.13 1012.53,932.13 1008.56,931.56 1009.00,932.27 999.58,934.06ZM696.92,489.90 687.50,491.70 687.65,490.87 684.17,492.87 688.14,493.44 687.70,492.73 697.12,490.94ZM697.12,934.06 687.70,932.27 688.14,931.56 684.17,932.13 687.65,934.13 687.50,933.30 696.92,935.10ZM1021.38,489.04 1029.45,493.52 1028.84,494.03 1032.64,494.70 1030.06,491.83 1029.95,492.62 1021.88,488.14ZM1021.88,936.86 1029.95,932.38 1030.06,933.17 1032.64,930.30 1028.84,930.97 1029.45,931.48 1021.38,935.96ZM674.82,488.14 666.75,492.62 666.64,491.83 664.06,494.70 667.86,494.03 667.25,493.52 675.32,489.04ZM675.32,935.96 667.25,931.48 667.86,930.97 664.06,930.30 666.64,933.17 666.75,932.38 674.82,936.86ZM1044.13,487.68 1049.52,493.96 1048.86,494.18 1051.84,495.93 1050.57,492.71 1050.25,493.33 1044.87,487.05ZM1044.87,937.95 1050.25,931.67 1050.57,932.29 1051.84,929.07 1048.86,930.82 1049.52,931.04 1044.13,937.32ZM651.83,487.05 646.45,493.33 646.13,492.71 644.86,495.93 647.84,494.18 647.18,493.96 652.57,487.68ZM652.57,937.32 647.18,931.04 647.84,930.82 644.86,929.07 646.13,932.29 646.45,931.67 651.83,937.95ZM1065.73,487.01 1070.22,494.19 1069.51,494.31 1072.26,496.54 1071.47,493.09 1071.05,493.67 1066.56,486.49ZM1066.56,938.51 1071.05,931.33 1071.47,931.91 1072.26,928.46 1069.51,930.69 1070.22,930.81 1065.73,937.99ZM630.14,486.49 625.65,493.67 625.23,493.09 624.44,496.54 627.19,494.31 626.48,494.19 630.97,487.01ZM630.97,937.99 626.48,930.81 627.19,930.69 624.44,928.46 625.23,931.91 625.65,931.33 630.14,938.51ZM1087.64,486.32 1090.78,494.39 1090.04,494.39 1092.38,497.15 1092.24,493.53 1091.70,494.03 1088.56,485.96ZM1088.56,939.04 1091.70,930.97 1092.24,931.47 1092.38,927.85 1090.04,930.61 1090.78,930.61 1087.64,938.68ZM608.14,485.96 605.00,494.03 604.46,493.53 604.32,497.15 606.66,494.39 605.92,494.39 609.06,486.32ZM609.06,938.68 605.92,930.61 606.66,930.61 604.32,927.85 604.46,931.47 605.00,930.97 608.14,939.04ZM1109.27,486.27 1111.52,494.34 1110.81,494.26 1112.80,497.15 1113.02,493.65 1112.45,494.08 1110.21,486.01ZM1110.21,938.99 1112.45,930.92 1113.02,931.35 1112.80,927.85 1110.81,930.74 1111.52,930.66 1109.27,938.73ZM586.49,486.01 584.25,494.08 583.68,493.65 583.90,497.15 585.89,494.26 585.18,494.34 587.43,486.27ZM587.43,938.73 585.18,930.66 585.89,930.74 583.90,927.85 583.68,931.35 584.25,930.92 586.49,938.99ZM1130.58,487.08 1132.49,493.95 1131.87,493.88 1133.61,496.33 1133.83,493.34 1133.34,493.71 1131.43,486.85ZM1131.43,938.15 1133.34,931.29 1133.83,931.66 1133.61,928.67 1131.87,931.12 1132.49,931.05 1130.58,937.92ZM565.27,486.85 563.36,493.71 562.87,493.34 563.09,496.33 564.83,493.88 564.21,493.95 566.12,487.08ZM566.12,937.92 564.21,931.05 564.83,931.12 563.09,928.67 562.87,931.66 563.36,931.29 565.27,938.15ZM859.07,480.43 859.78,466.08 861.03,466.60 859.36,460.82 857.11,466.40 858.41,466.01 857.69,480.37ZM857.69,944.63 858.41,958.99 857.11,958.60 859.36,964.18 861.03,958.40 859.78,958.92 859.07,944.57ZM839.01,480.37 838.29,466.01 839.59,466.40 837.34,460.82 835.67,466.60 836.92,466.08 837.63,480.43ZM837.63,944.57 836.92,958.92 835.67,958.40 837.34,964.18 839.59,958.60 838.29,958.99 839.01,944.63ZM878.11,479.96 881.69,466.51 882.76,467.25 882.35,461.44 879.09,466.27 880.39,466.16 876.80,479.61ZM876.80,945.39 880.39,958.84 879.09,958.73 882.35,963.56 882.76,957.75 881.69,958.49 878.11,945.04ZM819.90,479.61 816.31,466.16 817.61,466.27 814.35,461.44 813.94,467.25 815.01,466.51 818.59,479.96ZM818.59,945.04 815.01,958.49 813.94,957.75 814.35,963.56 817.61,958.73 816.31,958.84 819.90,945.39ZM897.86,479.14 903.24,467.02 904.13,467.88 904.60,462.35 900.82,466.41 902.05,466.50 896.67,478.61ZM896.67,946.39 902.05,958.50 900.82,958.59 904.60,962.65 904.13,957.12 903.24,957.98 897.86,945.86ZM800.03,478.61 794.65,466.50 795.88,466.41 792.10,462.35 792.57,467.88 793.46,467.02 798.84,479.14ZM798.84,945.86 793.46,957.98 792.57,957.12 792.10,962.65 795.88,958.59 794.65,958.50 800.03,946.39ZM917.59,478.01 924.77,467.69 925.43,468.64 926.86,463.58 922.62,466.68 923.73,466.97 916.56,477.29ZM916.56,947.71 923.73,958.03 922.62,958.32 926.86,961.42 925.43,956.36 924.77,957.31 917.59,946.99ZM780.14,477.29 772.97,466.97 774.08,466.68 769.84,463.58 771.27,468.64 771.93,467.69 779.11,478.01ZM779.11,946.99 771.93,957.31 771.27,956.36 769.84,961.42 774.08,958.32 772.97,958.03 780.14,947.71ZM937.62,476.86 946.14,468.33 946.61,469.33 948.81,464.80 944.28,467.01 945.28,467.47 936.76,475.99ZM936.76,949.01 945.28,957.53 944.28,957.99 948.81,960.20 946.61,955.67 946.14,956.67 937.62,948.14ZM759.94,475.99 751.42,467.47 752.42,467.01 747.89,464.80 750.09,469.33 750.56,468.33 759.08,476.86ZM759.08,948.14 750.56,956.67 750.09,955.67 747.89,960.20 752.42,957.99 751.42,957.53 759.94,949.01ZM957.92,475.08 967.34,469.25 967.53,470.23 970.46,466.64 965.94,467.66 966.73,468.27 957.31,474.10ZM957.31,950.90 966.73,956.73 965.94,957.34 970.46,958.36 967.53,954.77 967.34,955.75 957.92,949.92ZM739.39,474.10 729.97,468.27 730.76,467.66 726.24,466.64 729.17,470.23 729.36,469.25 738.78,475.08ZM738.78,949.92 729.36,955.75 729.17,954.77 726.24,958.36 730.76,957.34 729.97,956.73 739.39,950.90ZM978.51,473.28 988.38,470.14 988.32,471.06 991.80,468.47 987.47,468.37 988.04,469.09 978.17,472.23ZM978.17,952.77 988.04,955.91 987.47,956.63 991.80,956.53 988.32,953.94 988.38,954.86 978.51,951.72ZM718.53,472.23 708.66,469.09 709.23,468.37 704.90,468.47 708.38,471.06 708.32,470.14 718.19,473.28ZM718.19,951.72 708.32,954.86 708.38,953.94 704.90,956.53 709.23,956.63 708.66,955.91 718.53,952.77ZM999.68,471.13 1009.10,471.13 1008.80,471.90 1012.53,470.61 1008.80,469.33 1009.10,470.09 999.68,470.09ZM999.68,954.91 1009.10,954.91 1008.80,955.67 1012.53,954.39 1008.80,953.10 1009.10,953.87 999.68,953.87ZM697.02,470.09 687.60,470.09 687.90,469.33 684.17,470.61 687.90,471.90 687.60,471.13 697.02,471.13ZM697.02,953.87 687.60,953.87 687.90,953.10 684.17,954.39 687.90,955.67 687.60,954.91 697.02,954.91ZM1021.20,469.57 1029.72,471.81 1029.27,472.42 1032.95,472.14 1029.88,470.09 1029.97,470.84 1021.45,468.60ZM1021.45,956.40 1029.97,954.16 1029.88,954.91 1032.95,952.86 1029.27,952.58 1029.72,953.19 1021.20,955.43ZM675.25,468.60 666.73,470.84 666.82,470.09 663.75,472.14 667.43,472.42 666.98,471.81 675.50,469.57ZM675.50,955.43 666.98,953.19 667.43,952.58 663.75,952.86 666.82,954.91 666.73,954.16 675.25,956.40ZM1043.02,467.97 1050.19,472.45 1049.61,472.88 1053.06,473.67 1050.84,470.92 1050.71,471.62 1043.54,467.14ZM1043.54,957.86 1050.71,953.38 1050.84,954.08 1053.06,951.33 1049.61,952.12 1050.19,952.55 1043.02,957.03ZM653.16,467.14 645.99,471.62 645.86,470.92 643.64,473.67 647.09,472.88 646.51,472.45 653.68,467.97ZM653.68,957.03 646.51,952.55 647.09,952.12 643.64,951.33 645.86,954.08 645.99,953.38 653.16,957.86ZM1064.89,466.98 1070.72,472.81 1070.08,473.08 1073.18,474.59 1071.67,471.49 1071.40,472.13 1065.57,466.30ZM1065.57,958.70 1071.40,952.87 1071.67,953.51 1073.18,950.41 1070.08,951.92 1070.72,952.19 1064.89,958.02ZM631.13,466.30 625.30,472.13 625.03,471.49 623.52,474.59 626.62,473.08 625.98,472.81 631.81,466.98ZM631.81,958.02 625.98,952.19 626.62,951.92 623.52,950.41 625.03,953.51 625.30,952.87 631.13,958.70ZM1086.78,466.29 1091.27,473.02 1090.61,473.15 1093.30,475.20 1092.44,471.93 1092.06,472.49 1087.58,465.76ZM1087.58,959.24 1092.06,952.51 1092.44,953.07 1093.30,949.80 1090.61,951.85 1091.27,951.98 1086.78,958.71ZM609.12,465.76 604.64,472.49 604.26,471.93 603.40,475.20 606.09,473.15 605.43,473.02 609.92,466.29ZM609.92,958.71 605.43,951.98 606.09,951.85 603.40,949.80 604.26,953.07 604.64,952.51 609.12,959.24ZM1108.38,465.62 1111.97,473.24 1111.26,473.29 1113.72,475.81 1113.34,472.31 1112.85,472.83 1109.27,465.20ZM1109.27,959.80 1112.85,952.17 1113.34,952.69 1113.72,949.19 1111.26,951.71 1111.97,951.76 1108.38,959.38ZM587.43,465.20 583.85,472.83 583.36,472.31 582.98,475.81 585.44,473.29 584.73,473.24 588.32,465.62ZM588.32,959.38 584.73,951.76 585.44,951.71 582.98,949.19 583.36,952.69 583.85,952.17 587.43,959.80ZM1129.82,466.38 1132.87,472.86 1132.25,472.90 1134.39,475.03 1134.10,472.03 1133.68,472.48 1130.63,466.00ZM1130.63,959.00 1133.68,952.52 1134.10,952.97 1134.39,949.97 1132.25,952.10 1132.87,952.14 1129.82,958.62ZM566.07,466.00 563.02,472.48 562.60,472.03 562.31,475.03 564.45,472.90 563.83,472.86 566.88,466.38ZM566.88,958.62 563.83,952.14 564.45,952.10 562.31,949.97 562.60,952.97 563.02,952.52 566.07,959.00ZM859.24,459.08 859.68,445.18 860.89,445.66 859.17,440.10 857.10,445.53 858.34,445.13 857.89,459.04ZM857.89,965.96 858.34,979.87 857.10,979.47 859.17,984.90 860.89,979.34 859.68,979.82 859.24,965.92ZM838.81,459.04 838.36,445.13 839.60,445.53 837.53,440.10 835.81,445.66 837.02,445.18 837.46,459.08ZM837.46,965.92 837.02,979.82 835.81,979.34 837.53,984.90 839.60,979.47 838.36,979.87 838.81,965.96ZM878.12,459.23 881.71,445.33 882.82,446.08 882.35,440.10 879.03,445.11 880.37,444.98 876.79,458.89ZM876.79,966.11 880.37,980.02 879.03,979.89 882.35,984.90 882.82,978.92 881.71,979.67 878.12,965.77ZM819.91,458.89 816.33,444.98 817.67,445.11 814.35,440.10 813.88,446.08 814.99,445.33 818.58,459.23ZM818.58,965.77 814.99,979.67 813.88,978.92 814.35,984.90 817.67,979.89 816.33,980.02 819.91,966.11ZM897.86,458.10 903.24,445.99 904.13,446.84 904.60,441.32 900.82,445.38 902.05,445.46 896.67,457.57ZM896.67,967.43 902.05,979.54 900.82,979.62 904.60,983.68 904.13,978.16 903.24,979.01 897.86,966.90ZM800.03,457.57 794.65,445.46 795.88,445.38 792.10,441.32 792.57,446.84 793.46,445.99 798.84,458.10ZM798.84,966.90 793.46,979.01 792.57,978.16 792.10,983.68 795.88,979.62 794.65,979.54 800.03,967.43ZM917.61,457.27 924.78,446.51 925.49,447.47 926.86,442.24 922.56,445.52 923.72,445.80 916.54,456.56ZM916.54,968.44 923.72,979.20 922.56,979.48 926.86,982.76 925.49,977.53 924.78,978.49 917.61,967.73ZM780.16,456.56 772.98,445.80 774.14,445.52 769.84,442.24 771.21,447.47 771.92,446.51 779.09,457.27ZM779.09,967.73 771.92,978.49 771.21,977.53 769.84,982.76 774.14,979.48 772.98,979.20 780.16,968.44ZM937.62,455.82 946.14,447.30 946.61,448.30 948.81,443.77 944.28,445.97 945.28,446.44 936.76,454.96ZM936.76,970.04 945.28,978.56 944.28,979.03 948.81,981.23 946.61,976.70 946.14,977.70 937.62,969.18ZM759.94,454.96 751.42,446.44 752.42,445.97 747.89,443.77 750.09,448.30 750.56,447.30 759.08,455.82ZM759.08,969.18 750.56,977.70 750.09,976.70 747.89,981.23 752.42,979.03 751.42,978.56 759.94,970.04ZM957.92,454.05 967.34,448.21 967.53,449.19 970.46,445.60 965.94,446.62 966.73,447.23 957.31,453.06ZM957.31,971.94 966.73,977.77 965.94,978.38 970.46,979.40 967.53,975.81 967.34,976.79 957.92,970.95ZM739.39,453.06 729.97,447.23 730.76,446.62 726.24,445.60 729.17,449.19 729.36,448.21 738.78,454.05ZM738.78,970.95 729.36,976.79 729.17,975.81 726.24,979.40 730.76,978.38 729.97,977.77 739.39,971.94ZM978.55,452.85 988.42,448.82 988.45,449.77 991.80,446.83 987.35,447.08 987.99,447.77 978.13,451.81ZM978.13,973.19 987.99,977.23 987.35,977.92 991.80,978.17 988.45,975.23 988.42,976.18 978.55,972.15ZM718.57,451.81 708.71,447.77 709.35,447.08 704.90,446.83 708.25,449.77 708.28,448.82 718.15,452.85ZM718.15,972.15 708.28,976.18 708.25,975.23 704.90,978.17 709.35,977.92 708.71,977.23 718.57,973.19ZM999.73,450.71 1009.15,449.81 1008.92,450.61 1012.53,448.97 1008.68,448.04 1009.05,448.77 999.63,449.67ZM999.63,975.33 1009.05,976.23 1008.68,976.96 1012.53,976.03 1008.92,974.39 1009.15,975.19 999.73,974.29ZM697.07,449.67 687.65,448.77 688.02,448.04 684.17,448.97 687.78,450.61 687.55,449.81 696.97,450.71ZM696.97,974.29 687.55,975.19 687.78,974.39 684.17,976.03 688.02,976.96 687.65,976.23 697.07,975.33ZM1020.66,449.49 1030.08,450.38 1029.71,451.12 1033.56,450.19 1029.96,448.55 1030.18,449.34 1020.76,448.45ZM1020.76,976.55 1030.18,975.66 1029.96,976.45 1033.56,974.81 1029.71,973.88 1030.08,974.62 1020.66,975.51ZM675.94,448.45 666.52,449.34 666.74,448.55 663.14,450.19 666.99,451.12 666.62,450.38 676.04,449.49ZM676.04,975.51 666.62,974.62 666.99,973.88 663.14,974.81 666.74,976.45 666.52,975.66 675.94,976.55ZM1042.18,447.92 1050.71,451.06 1050.18,451.64 1053.98,451.72 1051.04,449.32 1051.06,450.10 1042.54,446.96ZM1042.54,978.04 1051.06,974.90 1051.04,975.68 1053.98,973.28 1050.18,973.36 1050.71,973.94 1042.18,977.08ZM654.16,446.96 645.64,450.10 645.66,449.32 642.72,451.72 646.52,451.64 645.99,451.06 654.52,447.92ZM654.52,977.08 645.99,973.94 646.52,973.36 642.72,973.28 645.66,975.68 645.64,974.90 654.16,978.04ZM1064.05,446.93 1071.23,451.42 1070.65,451.84 1074.10,452.64 1071.87,449.88 1071.75,450.59 1064.57,446.10ZM1064.57,978.90 1071.75,974.41 1071.87,975.12 1074.10,972.36 1070.65,973.16 1071.23,973.58 1064.05,978.07ZM632.13,446.10 624.95,450.59 624.83,449.88 622.60,452.64 626.05,451.84 625.47,451.42 632.65,446.93ZM632.65,978.07 625.47,973.58 626.05,973.16 622.60,972.36 624.83,975.12 624.95,974.41 632.13,978.90ZM1085.64,446.27 1091.92,451.66 1091.30,451.98 1094.52,453.25 1092.77,450.26 1092.55,450.92 1086.27,445.54ZM1086.27,979.46 1092.55,974.08 1092.77,974.74 1094.52,971.75 1091.30,973.02 1091.92,973.34 1085.64,978.73ZM610.43,445.54 604.15,450.92 603.93,450.26 602.18,453.25 605.40,451.98 604.78,451.66 611.06,446.27ZM611.06,978.73 604.78,973.34 605.40,973.02 602.18,971.75 603.93,974.74 604.15,974.08 610.43,979.46ZM1107.84,445.56 1112.32,451.84 1111.69,452.00 1114.33,453.86 1113.42,450.76 1113.08,451.31 1108.59,445.03ZM1108.59,979.97 1113.08,973.69 1113.42,974.24 1114.33,971.14 1111.69,973.00 1112.32,973.16 1107.84,979.44ZM588.11,445.03 583.62,451.31 583.28,450.76 582.37,453.86 585.01,452.00 584.38,451.84 588.86,445.56ZM588.86,979.44 584.38,973.16 585.01,973.00 582.37,971.14 583.28,974.24 583.62,973.69 588.11,979.97ZM1129.36,446.18 1133.17,451.52 1132.60,451.67 1134.91,453.22 1134.19,450.54 1133.86,451.03 1130.05,445.69ZM1130.05,979.31 1133.86,973.97 1134.19,974.46 1134.91,971.78 1132.60,973.33 1133.17,973.48 1129.36,978.82ZM566.65,445.69 562.84,451.03 562.51,450.54 561.79,453.22 564.10,451.67 563.53,451.52 567.34,446.18ZM567.34,978.82 563.53,973.48 564.10,973.33 561.79,971.78 562.51,974.46 562.84,973.97 566.65,979.31ZM859.21,436.62 859.59,424.80 860.59,425.21 859.13,420.48 857.36,425.11 858.39,424.77 858.00,436.58ZM858.00,988.42 858.39,1000.23 857.36,999.89 859.13,1004.52 860.59,999.79 859.59,1000.20 859.21,988.38ZM838.70,436.58 838.31,424.77 839.34,425.11 837.57,420.48 836.11,425.21 837.11,424.80 837.49,436.62ZM837.49,988.38 837.11,1000.20 836.11,999.79 837.57,1004.52 839.34,999.89 838.31,1000.23 838.70,988.42ZM878.42,436.76 881.47,424.94 882.39,425.58 881.98,420.48 879.16,424.74 880.27,424.63 877.22,436.45ZM877.22,988.55 880.27,1000.37 879.16,1000.26 881.98,1004.52 882.39,999.42 881.47,1000.06 878.42,988.24ZM819.48,436.45 816.43,424.63 817.54,424.74 814.72,420.48 814.31,425.58 815.23,424.94 818.28,436.76ZM818.28,988.24 815.23,1000.06 814.31,999.42 814.72,1004.52 817.54,1000.26 816.43,1000.37 819.48,988.55ZM898.35,435.80 902.92,425.51 903.65,426.22 904.05,421.52 900.84,424.97 901.86,425.03 897.28,435.33ZM897.28,989.67 901.86,999.97 900.84,1000.03 904.05,1003.48 903.65,998.78 902.92,999.49 898.35,989.20ZM799.42,435.33 794.84,425.03 795.86,424.97 792.65,421.52 793.05,426.22 793.78,425.51 798.35,435.80ZM798.35,989.20 793.78,999.49 793.05,998.78 792.65,1003.48 795.86,1000.03 794.84,999.97 799.42,989.67ZM918.29,435.10 924.39,425.95 924.96,426.76 926.13,422.30 922.47,425.09 923.43,425.32 917.33,434.47ZM917.33,990.53 923.43,999.68 922.47,999.91 926.13,1002.70 924.96,998.24 924.39,999.05 918.29,989.90ZM779.37,434.47 773.27,425.32 774.23,425.09 770.57,422.30 771.74,426.76 772.31,425.95 778.41,435.10ZM778.41,989.90 772.31,999.05 771.74,998.24 770.57,1002.70 774.23,999.91 773.27,999.68 779.37,990.53ZM938.45,433.87 945.69,426.63 946.06,427.46 947.94,423.60 944.09,425.48 944.92,425.85 937.67,433.10ZM937.67,991.90 944.92,999.15 944.09,999.52 947.94,1001.40 946.06,997.54 945.69,998.37 938.45,991.13ZM759.03,433.10 751.78,425.85 752.61,425.48 748.76,423.60 750.64,427.46 751.01,426.63 758.25,433.87ZM758.25,991.13 751.01,998.37 750.64,997.54 748.76,1001.40 752.61,999.52 751.78,999.15 759.03,991.90ZM958.85,432.37 966.86,427.41 967.00,428.22 969.50,425.16 965.65,426.03 966.31,426.52 958.30,431.48ZM958.30,993.52 966.31,998.48 965.65,998.97 969.50,999.84 967.00,996.78 966.86,997.59 958.85,992.63ZM738.40,431.48 730.39,426.52 731.05,426.03 727.20,425.16 729.70,428.22 729.84,427.41 737.85,432.37ZM737.85,992.63 729.84,997.59 729.70,996.78 727.20,999.84 731.05,998.97 730.39,998.48 738.40,993.52ZM979.54,431.36 987.93,427.92 987.94,428.71 990.79,426.20 987.00,426.42 987.54,426.98 979.16,430.41ZM979.16,994.59 987.54,998.02 987.00,998.58 990.79,998.80 987.94,996.29 987.93,997.08 979.54,993.64ZM717.54,430.41 709.16,426.98 709.70,426.42 705.91,426.20 708.76,428.71 708.77,427.92 717.16,431.36ZM717.16,993.64 708.77,997.08 708.76,996.29 705.91,998.80 709.70,998.58 709.16,998.02 717.54,994.59ZM1000.69,429.54 1008.69,428.77 1008.50,429.42 1011.56,428.02 1008.29,427.23 1008.60,427.83 1000.60,428.59ZM1000.60,996.41 1008.60,997.17 1008.29,997.77 1011.56,996.98 1008.50,995.58 1008.69,996.23 1000.69,995.46ZM696.10,428.59 688.10,427.83 688.41,427.23 685.14,428.02 688.20,429.42 688.01,428.77 696.01,429.54ZM696.01,995.46 688.01,996.23 688.20,995.58 685.14,996.98 688.41,997.77 688.10,997.17 696.10,996.41ZM1021.63,428.50 1029.64,429.26 1029.33,429.85 1032.60,429.06 1029.53,427.67 1029.73,428.31 1021.72,427.55ZM1021.72,997.45 1029.73,996.69 1029.53,997.33 1032.60,995.94 1029.33,995.15 1029.64,995.74 1021.63,996.50ZM674.98,427.55 666.97,428.31 667.17,427.67 664.10,429.06 667.37,429.85 667.06,429.26 675.07,428.50ZM675.07,996.50 667.06,995.74 667.37,995.15 664.10,995.94 667.17,997.33 666.97,996.69 674.98,997.45ZM1043.07,427.16 1050.31,429.83 1049.88,430.31 1053.11,430.36 1050.61,428.31 1050.63,428.96 1043.39,426.29ZM1043.39,998.71 1050.63,996.04 1050.61,996.69 1053.11,994.64 1049.88,994.69 1050.31,995.17 1043.07,997.84ZM653.31,426.29 646.07,428.96 646.09,428.31 643.59,430.36 646.82,430.31 646.39,429.83 653.63,427.16ZM653.63,997.84 646.39,995.17 646.82,994.69 643.59,994.64 646.09,996.69 646.07,996.04 653.31,998.71ZM1064.81,426.32 1070.91,430.13 1070.41,430.50 1073.36,431.14 1071.49,428.77 1071.38,429.38 1065.28,425.57ZM1065.28,999.43 1071.38,995.62 1071.49,996.23 1073.36,993.86 1070.41,994.50 1070.91,994.87 1064.81,998.68ZM631.42,425.57 625.32,429.38 625.21,428.77 623.34,431.14 626.29,430.50 625.79,430.13 631.89,426.32ZM631.89,998.68 625.79,994.87 626.29,994.50 623.34,993.86 625.21,996.23 625.32,995.62 631.42,999.43ZM1086.31,425.76 1091.65,430.33 1091.11,430.62 1093.88,431.66 1092.43,429.09 1092.22,429.67 1086.88,425.09ZM1086.88,999.91 1092.22,995.33 1092.43,995.91 1093.88,993.34 1091.11,994.38 1091.65,994.67 1086.31,999.24ZM609.82,425.09 604.48,429.67 604.27,429.09 602.82,431.66 605.59,430.62 605.05,430.33 610.39,425.76ZM610.39,999.24 605.05,994.67 605.59,994.38 602.82,993.34 604.27,995.91 604.48,995.33 609.82,999.91ZM1108.33,425.15 1112.14,430.49 1111.57,430.64 1113.87,432.18 1113.16,429.51 1112.83,430.00 1109.02,424.66ZM1109.02,1000.34 1112.83,995.00 1113.16,995.49 1113.87,992.82 1111.57,994.36 1112.14,994.51 1108.33,999.85ZM587.68,424.66 583.87,430.00 583.54,429.51 582.83,432.18 585.13,430.64 584.56,430.49 588.37,425.15ZM588.37,999.85 584.56,994.51 585.13,994.36 582.83,992.82 583.54,995.49 583.87,995.00 587.68,1000.34ZM1129.36,425.15 1133.17,430.49 1132.60,430.64 1134.91,432.18 1134.19,429.51 1133.86,430.00 1130.05,424.66ZM1130.05,1000.34 1133.86,995.00 1134.19,995.49 1134.91,992.82 1132.60,994.36 1133.17,994.51 1129.36,999.85ZM566.65,424.66 562.84,430.00 562.51,429.51 561.79,432.18 564.10,430.64 563.53,430.49 567.34,425.15ZM567.34,999.85 563.53,994.51 564.10,994.36 561.79,992.82 562.51,995.49 562.84,995.00 566.65,1000.34Z" fill="#151515"/></g><ellipse cx="848.4" cy="711.85" rx="70.2" ry="72.25" fill="#ee8b57"/><rect x="978" y="702.4" width="20" height="20.2" fill="#fff" stroke="#c0222e" stroke-width="3.1"/><path d="M708.12,993.00V973.00M708.12,432.00V452.00M567.90,852.73H587.90M1128.80,852.73H1108.80M848.35,993.00V973.00M848.35,432.00V452.00M567.90,712.50H587.90M1128.80,712.50H1108.80M988.57,993.00V973.00M988.57,432.00V452.00M567.90,572.27H587.90M1128.80,572.27H1108.80" stroke="#222" stroke-width="1.2" fill="none"/><rect x="567.9" y="432.0" width="560.9" height="561.0" fill="none" stroke="#111" stroke-width="2.2"/><text x="572.70" y="1039.8" font-size="45">4</text><text x="712.92" y="1039.8" font-size="45">2</text><text x="848.35" y="1039.8" font-size="45" text-anchor="middle">0</text><text x="988.57" y="1039.8" font-size="45" text-anchor="middle">2</text><text x="1128.80" y="1039.8" font-size="45" text-anchor="middle">4</text><text x="550.0" y="1005.85" font-size="45" text-anchor="end">4</text><text x="550.0" y="865.62" font-size="45" text-anchor="end">2</text><text x="550.0" y="727.30" font-size="45" text-anchor="end">0</text><text x="550.0" y="587.07" font-size="45" text-anchor="end">2</text><text x="550.0" y="446.85" font-size="45" text-anchor="end">4</text><path d="M540.90,1028.4H569.10M681.12,1028.4H709.32M495.3,994.85H523.6M495.3,854.62H523.6" stroke="#111" stroke-width="1.8" fill="none"/><text transform="translate(683.46,1243.72) scale(1.230,1)" font-size="47.65" font-style="italic">t</text><text transform="translate(704.11,1244.27) scale(1.350,1)" font-size="43.92" font-style="italic">f</text><text transform="translate(790.92,1084.80) scale(1.101,1)" font-size="45.00" font-style="italic">x</text><text transform="translate(836.73,1084.50) scale(1.267,1)" font-size="42.77" font-style="italic">r</text><text transform="translate(859.11,1088.42) scale(1.214,1)" font-size="28.33">c</text><text transform="translate(875.26,1088.45) scale(1.260,1)" font-size="28.15">y</text><text transform="translate(893.93,1088.70) scale(1.301,1)" font-size="29.78">l</text><text transform="rotate(-90) translate(-765.98,471.49) scale(0.922,1)" font-size="42.37" font-style="italic">y</text><text transform="rotate(-90) translate(-723.87,471.70) scale(1.232,1)" font-size="41.91" font-style="italic">r</text><text transform="rotate(-90) translate(-702.29,477.51) scale(1.197,1)" font-size="28.75">c</text><text transform="rotate(-90) translate(-686.62,476.95) scale(1.187,1)" font-size="28.15">y</text><text transform="rotate(-90) translate(-667.32,477.30) scale(1.021,1)" font-size="30.50">l</text><text transform="rotate(-90) translate(-671.45,38.37) scale(1.179,1)" font-size="42.33" font-weight="bold">u</text><text transform="rotate(-90) translate(-605.05,38.90) scale(1.044,1)" font-size="45.28">in</text><text transform="rotate(-90) translate(-555.18,38.23) scale(1.249,1)" font-size="39.85">μm</text><text transform="rotate(-90) translate(-466.92,39.08) scale(1.152,1)" font-size="41.67">s</text><path d="M817.6,1095.2L835.2,1050.6M438.0,726.8L483.0,743.8M5.6,470.0L49.5,486.7" stroke="#111" stroke-width="2.0" fill="none" stroke-linecap="round"/><path d="M5.6,689.60H49.5M5.6,680.70H49.5M5.6,637.30H49.5M5.6,628.40H49.5" stroke="#111" stroke-width="1.6" fill="none"/></svg></body></html>
